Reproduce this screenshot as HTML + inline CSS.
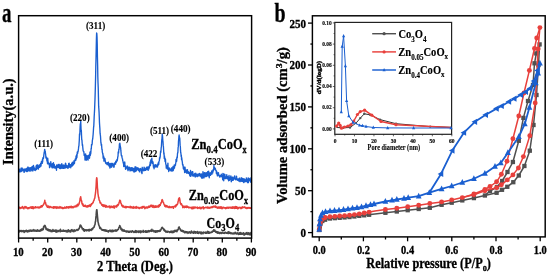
<!DOCTYPE html><html><head><meta charset="utf-8"><style>html,body{margin:0;padding:0;background:#fff;}svg{display:block;will-change:transform;}text{font-family:"Liberation Serif", serif;}</style></head><body>
<svg width="550" height="277" viewBox="0 0 550 277">
<rect x="0" y="0" width="550" height="277" fill="#fff"/>
<path d="M18.60,230.40 L18.86,230.75 L19.12,231.29 L19.39,231.81 L19.65,230.44 L19.91,231.21 L20.17,230.63 L20.43,230.69 L20.70,230.91 L20.96,231.40 L21.22,231.16 L21.48,231.64 L21.74,230.56 L22.00,231.49 L22.27,231.51 L22.53,231.08 L22.79,231.29 L23.05,230.76 L23.31,230.50 L23.58,230.84 L23.84,230.72 L24.10,232.49 L24.36,230.80 L24.62,231.87 L24.89,231.14 L25.15,231.19 L25.41,231.41 L25.67,230.65 L25.93,231.49 L26.20,231.22 L26.46,230.27 L26.72,231.33 L26.98,231.31 L27.24,231.25 L27.50,231.82 L27.77,230.82 L28.03,231.28 L28.29,231.40 L28.55,230.57 L28.81,231.62 L29.08,230.29 L29.34,230.36 L29.60,231.27 L29.86,230.47 L30.12,230.95 L30.39,230.18 L30.65,231.04 L30.91,230.43 L31.17,231.17 L31.43,230.23 L31.69,231.21 L31.96,230.85 L32.22,231.01 L32.48,230.94 L32.74,231.04 L33.00,230.31 L33.27,229.68 L33.53,230.98 L33.79,230.49 L34.05,230.72 L34.31,231.16 L34.58,229.94 L34.84,230.55 L35.10,230.61 L35.36,230.38 L35.62,231.07 L35.89,230.82 L36.15,230.47 L36.41,230.38 L36.67,231.26 L36.93,230.51 L37.19,231.12 L37.46,231.04 L37.72,229.85 L37.98,230.23 L38.24,230.75 L38.50,230.90 L38.77,231.09 L39.03,231.07 L39.29,231.15 L39.55,230.41 L39.81,230.44 L40.08,230.89 L40.34,230.23 L40.60,230.91 L40.86,229.51 L41.12,230.55 L41.39,230.04 L41.65,229.04 L41.91,230.38 L42.17,229.90 L42.43,229.57 L42.69,228.81 L42.96,228.87 L43.22,229.55 L43.48,228.00 L43.74,226.20 L44.00,226.89 L44.27,226.00 L44.53,225.83 L44.79,225.40 L45.05,225.44 L45.31,226.17 L45.58,227.85 L45.84,227.21 L46.10,229.39 L46.36,228.53 L46.62,228.56 L46.89,229.75 L47.15,229.85 L47.41,229.22 L47.67,230.27 L47.93,229.10 L48.19,229.67 L48.46,230.79 L48.72,230.19 L48.98,229.74 L49.24,230.71 L49.50,230.97 L49.77,230.55 L50.03,229.70 L50.29,230.47 L50.55,230.88 L50.81,231.09 L51.08,231.66 L51.34,230.63 L51.60,230.54 L51.86,230.78 L52.12,231.42 L52.39,230.37 L52.65,231.51 L52.91,229.49 L53.17,231.28 L53.43,230.56 L53.69,231.13 L53.96,231.26 L54.22,230.33 L54.48,230.89 L54.74,231.06 L55.00,231.24 L55.27,230.49 L55.53,230.47 L55.79,230.01 L56.05,232.24 L56.31,230.88 L56.58,230.87 L56.84,230.24 L57.10,231.46 L57.36,230.73 L57.62,231.72 L57.88,231.43 L58.15,231.02 L58.41,231.37 L58.67,230.45 L58.93,230.85 L59.19,230.73 L59.46,230.38 L59.72,231.03 L59.98,230.95 L60.24,231.74 L60.50,229.35 L60.77,230.69 L61.03,230.57 L61.29,230.80 L61.55,231.24 L61.81,231.23 L62.08,231.04 L62.34,230.79 L62.60,231.28 L62.86,231.21 L63.12,230.11 L63.38,230.90 L63.65,230.34 L63.91,230.44 L64.17,231.10 L64.43,231.06 L64.69,231.08 L64.96,230.59 L65.22,230.92 L65.48,230.57 L65.74,231.21 L66.00,231.36 L66.27,231.89 L66.53,231.65 L66.79,230.61 L67.05,230.78 L67.31,230.54 L67.58,231.16 L67.84,231.99 L68.10,231.35 L68.36,229.89 L68.62,230.36 L68.88,230.33 L69.15,231.23 L69.41,230.97 L69.67,231.11 L69.93,231.85 L70.19,230.54 L70.46,230.52 L70.72,231.92 L70.98,231.09 L71.24,230.52 L71.50,229.89 L71.77,230.13 L72.03,229.66 L72.29,230.90 L72.55,230.87 L72.81,231.33 L73.08,230.74 L73.34,230.44 L73.60,230.40 L73.86,231.69 L74.12,229.83 L74.38,230.77 L74.65,230.67 L74.91,230.92 L75.17,230.37 L75.43,230.78 L75.69,230.88 L75.96,230.34 L76.22,230.12 L76.48,230.18 L76.74,229.70 L77.00,229.98 L77.27,229.81 L77.53,229.94 L77.79,230.35 L78.05,230.15 L78.31,229.06 L78.58,229.33 L78.84,228.87 L79.10,228.73 L79.36,227.89 L79.62,227.41 L79.88,226.25 L80.15,225.15 L80.41,225.17 L80.67,225.24 L80.93,225.56 L81.19,226.37 L81.46,227.13 L81.72,227.42 L81.98,227.26 L82.24,228.87 L82.50,228.95 L82.77,228.83 L83.03,228.84 L83.29,230.14 L83.55,228.75 L83.81,230.66 L84.07,230.20 L84.34,231.16 L84.60,229.69 L84.86,230.10 L85.12,229.91 L85.38,230.28 L85.65,230.14 L85.91,229.89 L86.17,230.83 L86.43,229.91 L86.69,230.06 L86.96,230.59 L87.22,230.05 L87.48,230.09 L87.74,230.48 L88.00,230.10 L88.27,229.64 L88.53,230.18 L88.79,230.09 L89.05,231.01 L89.31,229.57 L89.57,230.55 L89.84,229.61 L90.10,229.76 L90.36,229.70 L90.62,229.91 L90.88,230.11 L91.15,230.44 L91.41,229.12 L91.67,229.97 L91.93,229.64 L92.19,229.36 L92.46,228.36 L92.72,228.95 L92.98,228.17 L93.24,228.08 L93.50,227.40 L93.77,227.44 L94.03,227.16 L94.29,226.59 L94.55,225.23 L94.81,225.00 L95.07,224.22 L95.34,221.76 L95.60,221.33 L95.86,217.71 L96.12,215.64 L96.38,212.02 L96.65,209.75 L96.91,209.78 L97.17,212.73 L97.43,216.09 L97.69,218.60 L97.96,221.60 L98.22,222.61 L98.48,223.54 L98.74,225.12 L99.00,225.25 L99.27,226.08 L99.53,226.63 L99.79,228.17 L100.05,228.49 L100.31,228.04 L100.57,227.65 L100.84,228.84 L101.10,228.98 L101.36,229.33 L101.62,229.62 L101.88,229.35 L102.15,230.12 L102.41,230.20 L102.67,230.01 L102.93,229.80 L103.19,229.86 L103.46,230.53 L103.72,229.71 L103.98,230.25 L104.24,230.02 L104.50,229.76 L104.77,230.81 L105.03,230.55 L105.29,230.62 L105.55,231.08 L105.81,229.93 L106.07,230.68 L106.34,230.89 L106.60,231.19 L106.86,230.26 L107.12,231.19 L107.38,230.96 L107.65,231.55 L107.91,231.46 L108.17,231.18 L108.43,232.00 L108.69,230.94 L108.96,230.74 L109.22,230.79 L109.48,230.51 L109.74,230.97 L110.00,230.05 L110.27,230.96 L110.53,231.22 L110.79,231.50 L111.05,230.84 L111.31,231.71 L111.57,230.69 L111.84,230.94 L112.10,230.07 L112.36,230.62 L112.62,230.60 L112.88,231.71 L113.15,231.23 L113.41,230.42 L113.67,231.20 L113.93,231.16 L114.19,230.78 L114.46,230.88 L114.72,230.69 L114.98,230.53 L115.24,229.89 L115.50,230.66 L115.76,231.27 L116.03,231.27 L116.29,230.36 L116.55,230.03 L116.81,230.19 L117.07,230.60 L117.34,230.18 L117.60,229.54 L117.86,229.79 L118.12,229.25 L118.38,229.27 L118.65,228.42 L118.91,227.38 L119.17,227.48 L119.43,227.08 L119.69,225.57 L119.96,225.95 L120.22,226.92 L120.48,227.05 L120.74,227.62 L121.00,229.49 L121.26,229.36 L121.53,229.81 L121.79,229.14 L122.05,230.64 L122.31,229.24 L122.57,229.96 L122.84,230.72 L123.10,231.14 L123.36,230.15 L123.62,230.37 L123.88,230.88 L124.15,229.92 L124.41,231.23 L124.67,231.25 L124.93,230.81 L125.19,231.33 L125.46,231.49 L125.72,231.30 L125.98,231.44 L126.24,231.95 L126.50,231.01 L126.76,231.35 L127.03,231.04 L127.29,231.82 L127.55,231.14 L127.81,231.58 L128.07,231.44 L128.34,231.42 L128.60,232.23 L128.86,231.37 L129.12,232.12 L129.38,231.84 L129.65,232.09 L129.91,231.38 L130.17,231.92 L130.43,231.85 L130.69,231.20 L130.96,231.63 L131.22,231.45 L131.48,231.50 L131.74,232.16 L132.00,231.19 L132.26,230.73 L132.53,230.71 L132.79,231.34 L133.05,231.25 L133.31,231.58 L133.57,231.85 L133.84,232.43 L134.10,231.74 L134.36,231.82 L134.62,231.24 L134.88,231.88 L135.15,232.26 L135.41,232.26 L135.67,230.67 L135.93,232.05 L136.19,232.39 L136.46,232.03 L136.72,230.91 L136.98,231.49 L137.24,231.92 L137.50,231.84 L137.76,231.26 L138.03,231.22 L138.29,232.12 L138.55,231.01 L138.81,232.35 L139.07,231.67 L139.34,231.81 L139.60,231.02 L139.86,231.38 L140.12,232.00 L140.38,230.96 L140.65,232.67 L140.91,231.00 L141.17,231.09 L141.43,231.70 L141.69,231.91 L141.95,232.03 L142.22,231.50 L142.48,231.58 L142.74,231.56 L143.00,231.40 L143.26,230.43 L143.53,232.13 L143.79,231.79 L144.05,231.74 L144.31,231.36 L144.57,231.78 L144.84,231.64 L145.10,231.61 L145.36,232.17 L145.62,230.80 L145.88,231.74 L146.15,231.10 L146.41,231.44 L146.67,232.30 L146.93,231.04 L147.19,231.50 L147.45,231.24 L147.72,231.95 L147.98,231.00 L148.24,230.62 L148.50,231.64 L148.76,231.18 L149.03,231.14 L149.29,231.75 L149.55,230.73 L149.81,230.88 L150.07,231.03 L150.34,231.03 L150.60,230.43 L150.86,231.01 L151.12,231.43 L151.38,230.03 L151.65,231.09 L151.91,229.26 L152.17,231.09 L152.43,230.41 L152.69,230.80 L152.95,230.70 L153.22,230.67 L153.48,230.46 L153.74,230.96 L154.00,231.83 L154.26,231.81 L154.53,231.13 L154.79,231.08 L155.05,231.02 L155.31,230.81 L155.57,232.26 L155.84,231.72 L156.10,231.46 L156.36,231.17 L156.62,230.91 L156.88,232.02 L157.15,231.74 L157.41,230.88 L157.67,231.79 L157.93,230.74 L158.19,231.53 L158.45,230.71 L158.72,230.91 L158.98,231.26 L159.24,231.14 L159.50,231.31 L159.76,230.29 L160.03,231.30 L160.29,231.00 L160.55,230.12 L160.81,230.07 L161.07,229.12 L161.34,228.98 L161.60,227.85 L161.86,227.86 L162.12,227.31 L162.38,227.64 L162.65,227.79 L162.91,228.38 L163.17,228.48 L163.43,229.09 L163.69,229.47 L163.95,230.08 L164.22,229.32 L164.48,230.84 L164.74,229.91 L165.00,230.58 L165.26,230.97 L165.53,230.83 L165.79,231.97 L166.05,231.22 L166.31,232.09 L166.57,231.97 L166.84,231.22 L167.10,231.71 L167.36,232.18 L167.62,231.44 L167.88,231.67 L168.14,231.39 L168.41,231.72 L168.67,231.54 L168.93,231.77 L169.19,232.23 L169.45,232.43 L169.72,231.84 L169.98,231.88 L170.24,232.21 L170.50,231.66 L170.76,231.30 L171.03,232.34 L171.29,231.36 L171.55,232.25 L171.81,231.34 L172.07,232.68 L172.34,231.29 L172.60,232.19 L172.86,232.49 L173.12,231.29 L173.38,232.44 L173.64,231.31 L173.91,230.83 L174.17,231.99 L174.43,231.94 L174.69,231.46 L174.95,230.29 L175.22,231.42 L175.48,231.23 L175.74,231.11 L176.00,231.05 L176.26,230.22 L176.53,230.67 L176.79,231.64 L177.05,231.33 L177.31,230.18 L177.57,229.73 L177.84,229.92 L178.10,229.80 L178.36,229.08 L178.62,227.48 L178.88,227.39 L179.14,226.90 L179.41,227.64 L179.67,228.14 L179.93,228.57 L180.19,229.56 L180.45,229.31 L180.72,230.66 L180.98,230.05 L181.24,230.72 L181.50,231.20 L181.76,230.51 L182.03,230.78 L182.29,230.41 L182.55,231.46 L182.81,231.46 L183.07,231.42 L183.34,231.90 L183.60,230.71 L183.86,231.78 L184.12,231.89 L184.38,231.77 L184.64,232.33 L184.91,232.83 L185.17,231.81 L185.43,231.61 L185.69,231.80 L185.95,232.16 L186.22,232.42 L186.48,231.75 L186.74,232.67 L187.00,231.72 L187.26,232.63 L187.53,232.45 L187.79,232.49 L188.05,233.32 L188.31,232.17 L188.57,232.23 L188.84,232.55 L189.10,232.75 L189.36,231.71 L189.62,232.49 L189.88,232.02 L190.14,232.68 L190.41,233.05 L190.67,232.43 L190.93,232.36 L191.19,232.51 L191.45,231.01 L191.72,232.81 L191.98,232.72 L192.24,232.54 L192.50,232.27 L192.76,232.12 L193.03,232.39 L193.29,233.07 L193.55,232.44 L193.81,233.15 L194.07,231.27 L194.33,232.29 L194.60,232.65 L194.86,232.52 L195.12,231.74 L195.38,232.22 L195.64,233.15 L195.91,231.93 L196.17,232.08 L196.43,232.04 L196.69,232.30 L196.95,232.88 L197.22,232.87 L197.48,231.61 L197.74,233.29 L198.00,232.31 L198.26,232.32 L198.53,233.41 L198.79,232.57 L199.05,232.02 L199.31,232.31 L199.57,232.28 L199.83,232.14 L200.10,232.47 L200.36,233.06 L200.62,232.81 L200.88,231.98 L201.14,233.99 L201.41,232.18 L201.67,232.71 L201.93,232.67 L202.19,233.03 L202.45,232.51 L202.72,232.89 L202.98,233.68 L203.24,232.72 L203.50,232.16 L203.76,232.84 L204.03,232.29 L204.29,232.50 L204.55,232.77 L204.81,232.84 L205.07,232.55 L205.33,233.09 L205.60,232.59 L205.86,232.05 L206.12,233.10 L206.38,232.50 L206.64,233.26 L206.91,232.35 L207.17,232.94 L207.43,232.81 L207.69,231.36 L207.95,231.93 L208.22,232.10 L208.48,233.30 L208.74,231.70 L209.00,233.03 L209.26,233.10 L209.53,232.80 L209.79,232.86 L210.05,232.27 L210.31,232.47 L210.57,232.55 L210.83,232.60 L211.10,232.69 L211.36,232.20 L211.62,231.90 L211.88,231.89 L212.14,232.27 L212.41,231.18 L212.67,231.25 L212.93,231.52 L213.19,231.29 L213.45,231.24 L213.72,229.89 L213.98,230.80 L214.24,230.70 L214.50,231.16 L214.76,229.94 L215.03,230.93 L215.29,231.52 L215.55,231.74 L215.81,232.26 L216.07,232.36 L216.33,231.49 L216.60,232.42 L216.86,232.05 L217.12,231.92 L217.38,233.12 L217.64,232.15 L217.91,232.11 L218.17,232.38 L218.43,232.21 L218.69,233.15 L218.95,232.89 L219.22,233.42 L219.48,232.97 L219.74,232.51 L220.00,233.34 L220.26,232.54 L220.52,232.66 L220.79,232.82 L221.05,232.94 L221.31,233.51 L221.57,232.67 L221.83,233.14 L222.10,232.98 L222.36,232.40 L222.62,232.49 L222.88,232.92 L223.14,233.24 L223.41,233.21 L223.67,233.30 L223.93,233.10 L224.19,232.87 L224.45,233.30 L224.72,232.62 L224.98,232.47 L225.24,232.97 L225.50,232.45 L225.76,232.90 L226.02,232.79 L226.29,232.89 L226.55,233.15 L226.81,232.79 L227.07,232.98 L227.33,232.37 L227.60,233.27 L227.86,232.79 L228.12,233.41 L228.38,231.86 L228.64,232.85 L228.91,233.36 L229.17,232.07 L229.43,233.08 L229.69,233.31 L229.95,233.32 L230.22,232.55 L230.48,233.39 L230.74,233.36 L231.00,232.83 L231.26,233.66 L231.52,233.29 L231.79,233.32 L232.05,233.11 L232.31,233.59 L232.57,233.38 L232.83,233.89 L233.10,233.57 L233.36,233.06 L233.62,233.25 L233.88,233.81 L234.14,233.20 L234.41,233.57 L234.67,233.64 L234.93,233.31 L235.19,232.28 L235.45,233.47 L235.72,233.52 L235.98,233.48 L236.24,233.06 L236.50,234.02 L236.76,233.37 L237.02,233.14 L237.29,233.10 L237.55,233.63 L237.81,232.93 L238.07,232.98 L238.33,234.44 L238.60,234.11 L238.86,234.00 L239.12,234.15 L239.38,233.79 L239.64,232.69 L239.91,234.09 L240.17,234.12 L240.43,233.76 L240.69,232.58 L240.95,234.14 L241.22,234.20 L241.48,233.31 L241.74,233.62 L242.00,233.94 L242.26,233.53 L242.52,234.10 L242.79,233.62 L243.05,233.92 L243.31,233.63 L243.57,232.88 L243.83,233.12 L244.10,235.14 L244.36,233.75 L244.62,234.26 L244.88,234.18 L245.14,234.47 L245.41,233.91 L245.67,233.36 L245.93,233.66 L246.19,232.73 L246.45,233.57 L246.71,234.11 L246.98,232.63 L247.24,233.78 L247.50,234.09 L247.76,234.34 L248.02,233.25 L248.29,233.39 L248.55,232.81 L248.81,233.23 L249.07,233.99 L249.33,234.74 L249.60,233.18 L249.86,234.41 L250.12,233.96 L250.38,233.52 L250.64,234.83 L250.91,232.55 L251.17,233.74" fill="none" stroke="#484848" stroke-width="1.6" stroke-linejoin="round" />
<path d="M18.60,207.36 L18.86,207.24 L19.12,207.56 L19.39,207.88 L19.65,207.15 L19.91,207.67 L20.17,208.45 L20.43,208.08 L20.70,207.66 L20.96,207.80 L21.22,207.67 L21.48,207.71 L21.74,208.10 L22.00,207.68 L22.27,206.53 L22.53,207.72 L22.79,207.28 L23.05,208.05 L23.31,207.42 L23.58,207.80 L23.84,208.81 L24.10,207.20 L24.36,207.16 L24.62,207.01 L24.89,206.52 L25.15,206.77 L25.41,207.89 L25.67,207.39 L25.93,206.77 L26.20,206.97 L26.46,208.01 L26.72,207.32 L26.98,207.52 L27.24,207.86 L27.50,208.37 L27.77,208.67 L28.03,208.21 L28.29,207.76 L28.55,207.78 L28.81,208.59 L29.08,208.40 L29.34,207.52 L29.60,207.90 L29.86,207.82 L30.12,207.70 L30.39,207.42 L30.65,207.00 L30.91,207.39 L31.17,206.88 L31.43,208.26 L31.69,207.91 L31.96,207.04 L32.22,208.33 L32.48,208.08 L32.74,206.67 L33.00,208.54 L33.27,208.02 L33.53,208.64 L33.79,206.98 L34.05,207.86 L34.31,207.79 L34.58,207.67 L34.84,207.65 L35.10,208.08 L35.36,206.79 L35.62,206.91 L35.89,206.82 L36.15,207.23 L36.41,207.19 L36.67,207.66 L36.93,207.59 L37.19,207.45 L37.46,207.08 L37.72,207.17 L37.98,207.84 L38.24,207.72 L38.50,207.36 L38.77,207.11 L39.03,208.01 L39.29,206.90 L39.55,207.47 L39.81,207.67 L40.08,206.90 L40.34,207.38 L40.60,206.34 L40.86,207.31 L41.12,206.81 L41.39,205.80 L41.65,206.80 L41.91,205.87 L42.17,206.78 L42.43,205.59 L42.69,205.61 L42.96,205.55 L43.22,204.90 L43.48,204.79 L43.74,203.87 L44.00,203.84 L44.27,202.76 L44.53,202.15 L44.79,200.35 L45.05,202.62 L45.31,202.77 L45.58,202.61 L45.84,204.19 L46.10,204.88 L46.36,205.60 L46.62,204.86 L46.89,206.46 L47.15,205.84 L47.41,207.32 L47.67,206.22 L47.93,206.78 L48.19,206.39 L48.46,206.13 L48.72,207.33 L48.98,207.32 L49.24,207.71 L49.50,207.44 L49.77,206.78 L50.03,206.29 L50.29,206.84 L50.55,206.87 L50.81,206.83 L51.08,207.56 L51.34,207.46 L51.60,207.19 L51.86,207.44 L52.12,207.30 L52.39,207.50 L52.65,207.78 L52.91,207.90 L53.17,207.09 L53.43,206.70 L53.69,208.17 L53.96,207.53 L54.22,208.03 L54.48,206.67 L54.74,207.33 L55.00,207.52 L55.27,206.79 L55.53,207.26 L55.79,207.89 L56.05,208.07 L56.31,208.33 L56.58,207.11 L56.84,206.84 L57.10,207.80 L57.36,208.02 L57.62,207.65 L57.88,206.90 L58.15,207.95 L58.41,207.95 L58.67,207.83 L58.93,207.31 L59.19,207.71 L59.46,207.95 L59.72,207.28 L59.98,206.64 L60.24,207.72 L60.50,207.80 L60.77,207.57 L61.03,208.00 L61.29,207.26 L61.55,207.51 L61.81,207.40 L62.08,207.84 L62.34,208.35 L62.60,207.42 L62.86,208.57 L63.12,208.31 L63.38,207.94 L63.65,207.83 L63.91,208.42 L64.17,207.44 L64.43,207.47 L64.69,206.99 L64.96,207.76 L65.22,208.19 L65.48,207.78 L65.74,207.72 L66.00,207.40 L66.27,207.58 L66.53,206.78 L66.79,208.01 L67.05,207.27 L67.31,206.92 L67.58,207.09 L67.84,207.04 L68.10,207.87 L68.36,207.96 L68.62,206.75 L68.88,207.88 L69.15,207.85 L69.41,207.10 L69.67,206.64 L69.93,207.00 L70.19,207.04 L70.46,207.51 L70.72,207.14 L70.98,206.29 L71.24,207.41 L71.50,206.50 L71.77,207.70 L72.03,206.62 L72.29,206.85 L72.55,206.75 L72.81,206.87 L73.08,207.76 L73.34,207.51 L73.60,207.34 L73.86,207.16 L74.12,206.18 L74.38,206.65 L74.65,206.58 L74.91,206.30 L75.17,206.98 L75.43,206.28 L75.69,206.21 L75.96,205.95 L76.22,205.34 L76.48,206.54 L76.74,206.77 L77.00,206.04 L77.27,205.28 L77.53,204.21 L77.79,205.41 L78.05,205.65 L78.31,204.86 L78.58,204.78 L78.84,204.59 L79.10,203.83 L79.36,202.32 L79.62,202.13 L79.88,200.77 L80.15,198.16 L80.41,197.47 L80.67,196.72 L80.93,198.36 L81.19,200.14 L81.46,200.61 L81.72,201.12 L81.98,203.56 L82.24,203.70 L82.50,204.72 L82.77,203.71 L83.03,205.22 L83.29,206.00 L83.55,206.19 L83.81,205.26 L84.07,205.66 L84.34,205.58 L84.60,206.27 L84.86,206.38 L85.12,205.97 L85.38,205.31 L85.65,206.41 L85.91,205.83 L86.17,206.41 L86.43,206.24 L86.69,206.92 L86.96,206.68 L87.22,205.87 L87.48,206.25 L87.74,206.93 L88.00,205.74 L88.27,206.18 L88.53,206.51 L88.79,206.48 L89.05,206.04 L89.31,205.04 L89.57,204.97 L89.84,205.62 L90.10,205.57 L90.36,206.52 L90.62,204.67 L90.88,205.50 L91.15,205.13 L91.41,203.70 L91.67,203.88 L91.93,204.11 L92.19,203.48 L92.46,203.31 L92.72,203.24 L92.98,202.16 L93.24,202.31 L93.50,201.20 L93.77,200.61 L94.03,200.42 L94.29,199.03 L94.55,198.49 L94.81,198.02 L95.07,195.88 L95.34,194.14 L95.60,192.47 L95.86,189.11 L96.12,186.02 L96.38,180.21 L96.65,177.72 L96.91,177.96 L97.17,182.02 L97.43,187.76 L97.69,189.92 L97.96,193.78 L98.22,195.17 L98.48,197.11 L98.74,197.16 L99.00,199.33 L99.27,200.38 L99.53,200.40 L99.79,201.10 L100.05,203.01 L100.31,202.41 L100.57,202.59 L100.84,202.91 L101.10,203.83 L101.36,204.10 L101.62,204.32 L101.88,205.36 L102.15,204.57 L102.41,205.19 L102.67,205.87 L102.93,204.81 L103.19,205.99 L103.46,206.53 L103.72,205.07 L103.98,205.31 L104.24,205.45 L104.50,205.14 L104.77,206.38 L105.03,205.31 L105.29,206.56 L105.55,207.10 L105.81,205.63 L106.07,206.34 L106.34,205.59 L106.60,206.99 L106.86,206.27 L107.12,206.55 L107.38,206.75 L107.65,207.03 L107.91,206.62 L108.17,206.83 L108.43,206.57 L108.69,206.93 L108.96,206.30 L109.22,206.94 L109.48,205.96 L109.74,206.70 L110.00,207.92 L110.27,207.01 L110.53,206.35 L110.79,207.11 L111.05,206.51 L111.31,206.17 L111.57,206.63 L111.84,207.36 L112.10,207.18 L112.36,206.94 L112.62,206.52 L112.88,206.43 L113.15,207.63 L113.41,207.06 L113.67,206.44 L113.93,205.83 L114.19,206.17 L114.46,208.06 L114.72,206.21 L114.98,206.70 L115.24,206.78 L115.50,206.53 L115.76,206.40 L116.03,205.76 L116.29,205.82 L116.55,207.07 L116.81,205.71 L117.07,206.34 L117.34,204.88 L117.60,205.36 L117.86,205.35 L118.12,205.40 L118.38,203.91 L118.65,204.25 L118.91,203.48 L119.17,202.09 L119.43,201.75 L119.69,200.28 L119.96,200.20 L120.22,201.21 L120.48,200.81 L120.74,203.01 L121.00,203.29 L121.26,203.63 L121.53,204.60 L121.79,205.56 L122.05,205.28 L122.31,206.37 L122.57,205.37 L122.84,205.48 L123.10,207.07 L123.36,206.63 L123.62,207.02 L123.88,206.24 L124.15,207.14 L124.41,206.95 L124.67,207.21 L124.93,206.96 L125.19,207.61 L125.46,206.73 L125.72,206.62 L125.98,206.40 L126.24,207.75 L126.50,206.84 L126.76,206.71 L127.03,206.79 L127.29,207.06 L127.55,206.67 L127.81,207.18 L128.07,207.03 L128.34,207.09 L128.60,206.90 L128.86,207.41 L129.12,207.17 L129.38,207.47 L129.65,207.55 L129.91,207.61 L130.17,206.35 L130.43,207.19 L130.69,207.07 L130.96,207.86 L131.22,206.69 L131.48,207.13 L131.74,207.35 L132.00,207.33 L132.26,208.00 L132.53,207.29 L132.79,208.00 L133.05,206.79 L133.31,206.62 L133.57,208.14 L133.84,207.75 L134.10,207.78 L134.36,207.60 L134.62,207.78 L134.88,206.94 L135.15,208.02 L135.41,207.28 L135.67,208.04 L135.93,207.59 L136.19,206.57 L136.46,206.91 L136.72,208.12 L136.98,207.49 L137.24,207.36 L137.50,207.68 L137.76,207.34 L138.03,207.28 L138.29,207.61 L138.55,207.63 L138.81,208.31 L139.07,207.57 L139.34,208.49 L139.60,208.45 L139.86,208.40 L140.12,208.07 L140.38,207.61 L140.65,207.61 L140.91,207.46 L141.17,207.17 L141.43,207.49 L141.69,207.20 L141.95,208.34 L142.22,207.78 L142.48,207.28 L142.74,206.54 L143.00,207.47 L143.26,207.28 L143.53,206.94 L143.79,206.90 L144.05,206.33 L144.31,207.73 L144.57,207.40 L144.84,208.71 L145.10,207.39 L145.36,207.32 L145.62,208.10 L145.88,207.42 L146.15,207.42 L146.41,207.12 L146.67,206.98 L146.93,208.00 L147.19,207.72 L147.45,208.04 L147.72,206.96 L147.98,207.11 L148.24,206.60 L148.50,207.46 L148.76,206.21 L149.03,207.11 L149.29,207.29 L149.55,207.34 L149.81,206.05 L150.07,206.93 L150.34,205.87 L150.60,205.67 L150.86,205.20 L151.12,206.25 L151.38,206.36 L151.65,205.20 L151.91,205.19 L152.17,205.54 L152.43,207.14 L152.69,206.55 L152.95,205.93 L153.22,205.43 L153.48,206.09 L153.74,207.11 L154.00,207.53 L154.26,206.52 L154.53,206.36 L154.79,206.48 L155.05,205.82 L155.31,207.24 L155.57,206.25 L155.84,207.33 L156.10,205.94 L156.36,206.14 L156.62,206.90 L156.88,206.35 L157.15,207.08 L157.41,206.65 L157.67,206.00 L157.93,206.82 L158.19,206.85 L158.45,205.38 L158.72,207.13 L158.98,206.33 L159.24,206.30 L159.50,204.81 L159.76,205.16 L160.03,205.08 L160.29,205.49 L160.55,203.85 L160.81,203.68 L161.07,202.54 L161.34,202.73 L161.60,202.12 L161.86,200.05 L162.12,199.64 L162.38,199.84 L162.65,200.91 L162.91,201.47 L163.17,202.02 L163.43,202.44 L163.69,203.24 L163.95,203.91 L164.22,204.75 L164.48,205.02 L164.74,206.17 L165.00,205.74 L165.26,205.27 L165.53,206.77 L165.79,206.63 L166.05,206.34 L166.31,206.04 L166.57,205.57 L166.84,206.08 L167.10,207.12 L167.36,206.33 L167.62,206.13 L167.88,206.94 L168.14,207.00 L168.41,207.22 L168.67,207.28 L168.93,207.68 L169.19,206.58 L169.45,207.50 L169.72,206.53 L169.98,207.38 L170.24,207.13 L170.50,207.17 L170.76,207.53 L171.03,207.03 L171.29,207.59 L171.55,207.46 L171.81,207.08 L172.07,206.71 L172.34,206.59 L172.60,206.68 L172.86,206.81 L173.12,206.86 L173.38,208.32 L173.64,207.10 L173.91,207.11 L174.17,206.22 L174.43,206.22 L174.69,206.33 L174.95,206.48 L175.22,205.75 L175.48,206.94 L175.74,205.70 L176.00,206.33 L176.26,204.41 L176.53,205.33 L176.79,205.17 L177.05,204.78 L177.31,204.56 L177.57,203.88 L177.84,203.19 L178.10,201.35 L178.36,200.91 L178.62,198.81 L178.88,198.94 L179.14,197.89 L179.41,197.84 L179.67,198.66 L179.93,200.16 L180.19,202.58 L180.45,203.48 L180.72,203.34 L180.98,204.61 L181.24,203.66 L181.50,203.89 L181.76,204.95 L182.03,205.04 L182.29,205.45 L182.55,206.03 L182.81,207.63 L183.07,205.94 L183.34,206.44 L183.60,206.67 L183.86,206.62 L184.12,207.20 L184.38,207.70 L184.64,206.26 L184.91,207.03 L185.17,206.88 L185.43,207.24 L185.69,206.34 L185.95,206.27 L186.22,206.03 L186.48,207.49 L186.74,207.35 L187.00,207.32 L187.26,206.13 L187.53,207.15 L187.79,206.98 L188.05,206.67 L188.31,206.94 L188.57,207.77 L188.84,207.71 L189.10,207.44 L189.36,207.72 L189.62,207.17 L189.88,207.52 L190.14,207.52 L190.41,207.79 L190.67,207.49 L190.93,207.46 L191.19,207.47 L191.45,207.23 L191.72,208.67 L191.98,207.82 L192.24,207.79 L192.50,208.72 L192.76,208.29 L193.03,206.81 L193.29,207.94 L193.55,208.02 L193.81,208.55 L194.07,208.27 L194.33,208.00 L194.60,207.03 L194.86,207.19 L195.12,207.76 L195.38,207.88 L195.64,207.12 L195.91,207.44 L196.17,207.44 L196.43,207.67 L196.69,207.81 L196.95,207.51 L197.22,207.03 L197.48,208.27 L197.74,208.45 L198.00,207.60 L198.26,208.17 L198.53,207.88 L198.79,207.99 L199.05,207.91 L199.31,207.28 L199.57,207.95 L199.83,208.17 L200.10,207.22 L200.36,208.65 L200.62,208.72 L200.88,208.58 L201.14,208.67 L201.41,208.04 L201.67,207.50 L201.93,207.37 L202.19,207.27 L202.45,207.73 L202.72,207.66 L202.98,208.01 L203.24,206.66 L203.50,208.83 L203.76,208.81 L204.03,207.66 L204.29,208.01 L204.55,207.91 L204.81,207.80 L205.07,207.56 L205.33,207.60 L205.60,207.25 L205.86,207.75 L206.12,207.64 L206.38,207.81 L206.64,207.22 L206.91,207.66 L207.17,207.66 L207.43,207.93 L207.69,207.09 L207.95,207.83 L208.22,208.10 L208.48,207.90 L208.74,207.41 L209.00,207.33 L209.26,207.45 L209.53,207.92 L209.79,208.31 L210.05,207.44 L210.31,207.18 L210.57,207.67 L210.83,207.55 L211.10,206.97 L211.36,207.02 L211.62,207.30 L211.88,207.64 L212.14,206.66 L212.41,206.69 L212.67,207.38 L212.93,206.44 L213.19,207.02 L213.45,207.04 L213.72,206.70 L213.98,206.14 L214.24,206.54 L214.50,206.39 L214.76,206.77 L215.03,206.28 L215.29,207.35 L215.55,206.08 L215.81,206.92 L216.07,207.10 L216.33,207.65 L216.60,206.93 L216.86,207.56 L217.12,207.05 L217.38,207.75 L217.64,208.29 L217.91,207.25 L218.17,207.70 L218.43,207.04 L218.69,208.01 L218.95,208.15 L219.22,207.58 L219.48,207.01 L219.74,207.80 L220.00,208.18 L220.26,208.16 L220.52,208.04 L220.79,206.72 L221.05,207.31 L221.31,208.37 L221.57,207.05 L221.83,208.23 L222.10,208.62 L222.36,208.06 L222.62,208.25 L222.88,207.52 L223.14,207.08 L223.41,207.65 L223.67,207.60 L223.93,207.68 L224.19,208.06 L224.45,207.64 L224.72,207.81 L224.98,207.93 L225.24,207.72 L225.50,208.64 L225.76,207.95 L226.02,207.77 L226.29,207.63 L226.55,207.42 L226.81,208.40 L227.07,207.81 L227.33,207.20 L227.60,207.46 L227.86,207.67 L228.12,207.52 L228.38,208.28 L228.64,207.16 L228.91,207.99 L229.17,207.82 L229.43,207.16 L229.69,207.77 L229.95,207.70 L230.22,208.00 L230.48,207.53 L230.74,207.90 L231.00,206.92 L231.26,207.21 L231.52,208.15 L231.79,208.28 L232.05,207.75 L232.31,207.46 L232.57,208.30 L232.83,206.71 L233.10,207.36 L233.36,208.09 L233.62,208.09 L233.88,207.24 L234.14,206.82 L234.41,208.49 L234.67,207.84 L234.93,207.31 L235.19,207.79 L235.45,208.21 L235.72,206.47 L235.98,208.32 L236.24,208.13 L236.50,206.72 L236.76,208.15 L237.02,206.88 L237.29,208.34 L237.55,207.97 L237.81,208.89 L238.07,207.46 L238.33,207.77 L238.60,208.29 L238.86,207.45 L239.12,207.42 L239.38,207.58 L239.64,207.73 L239.91,207.23 L240.17,208.01 L240.43,208.04 L240.69,207.81 L240.95,208.62 L241.22,207.61 L241.48,208.42 L241.74,207.50 L242.00,208.15 L242.26,206.80 L242.52,207.87 L242.79,207.68 L243.05,207.53 L243.31,207.47 L243.57,207.60 L243.83,207.41 L244.10,206.68 L244.36,207.48 L244.62,207.50 L244.88,207.51 L245.14,207.25 L245.41,207.71 L245.67,208.17 L245.93,207.65 L246.19,207.53 L246.45,208.45 L246.71,208.26 L246.98,208.24 L247.24,208.35 L247.50,207.61 L247.76,207.71 L248.02,208.33 L248.29,207.50 L248.55,207.72 L248.81,207.97 L249.07,207.96 L249.33,207.64 L249.60,208.27 L249.86,207.69 L250.12,208.14 L250.38,208.31 L250.64,208.11 L250.91,208.15 L251.17,207.20" fill="none" stroke="#e8403c" stroke-width="1.5" stroke-linejoin="round" />
<path d="M18.60,170.24 L18.80,171.26 L19.01,170.24 L19.21,170.11 L19.41,169.26 L19.62,170.21 L19.82,171.98 L20.03,171.04 L20.23,171.85 L20.43,170.77 L20.64,170.95 L20.84,170.65 L21.04,168.13 L21.25,171.52 L21.45,171.03 L21.66,171.00 L21.86,168.02 L22.06,167.94 L22.27,169.07 L22.47,169.62 L22.67,170.65 L22.88,170.15 L23.08,170.90 L23.29,169.31 L23.49,170.58 L23.69,170.67 L23.90,169.23 L24.10,172.42 L24.30,170.84 L24.51,171.68 L24.71,169.21 L24.91,169.03 L25.12,169.54 L25.32,169.84 L25.53,170.82 L25.73,170.28 L25.93,169.32 L26.14,168.61 L26.34,169.18 L26.54,171.51 L26.75,168.75 L26.95,170.14 L27.16,170.37 L27.36,167.76 L27.56,169.81 L27.77,171.49 L27.97,166.98 L28.17,169.24 L28.38,169.51 L28.58,168.52 L28.79,170.27 L28.99,169.49 L29.19,167.57 L29.40,170.64 L29.60,170.40 L29.80,170.75 L30.01,171.39 L30.21,169.90 L30.41,169.55 L30.62,167.60 L30.82,170.16 L31.03,168.47 L31.23,168.65 L31.43,167.52 L31.64,167.89 L31.84,168.45 L32.04,170.87 L32.25,166.35 L32.45,167.09 L32.66,169.34 L32.86,170.93 L33.06,169.72 L33.27,166.33 L33.47,165.45 L33.67,169.28 L33.88,167.75 L34.08,167.17 L34.28,169.95 L34.49,170.06 L34.69,168.72 L34.90,168.78 L35.10,168.97 L35.30,170.47 L35.51,169.08 L35.71,168.88 L35.91,168.84 L36.12,165.91 L36.32,169.67 L36.53,169.15 L36.73,168.48 L36.93,165.01 L37.14,166.72 L37.34,168.61 L37.54,164.92 L37.75,167.01 L37.95,168.51 L38.16,165.24 L38.36,169.05 L38.56,167.48 L38.77,166.39 L38.97,166.87 L39.17,167.14 L39.38,166.24 L39.58,167.43 L39.78,164.79 L39.99,164.90 L40.19,166.63 L40.40,165.00 L40.60,163.50 L40.80,165.67 L41.01,166.05 L41.21,163.13 L41.41,161.49 L41.62,162.77 L41.82,162.31 L42.03,161.63 L42.23,163.40 L42.43,159.54 L42.64,161.99 L42.84,157.87 L43.04,157.74 L43.25,158.76 L43.45,158.43 L43.66,156.92 L43.86,154.94 L44.06,153.27 L44.27,151.86 L44.47,151.19 L44.67,149.41 L44.88,149.94 L45.08,150.97 L45.28,151.33 L45.49,153.72 L45.69,154.81 L45.90,158.02 L46.10,156.85 L46.30,156.81 L46.51,157.74 L46.71,158.97 L46.91,160.90 L47.12,159.79 L47.32,161.29 L47.53,163.73 L47.73,158.23 L47.93,160.58 L48.14,162.80 L48.34,163.35 L48.54,163.45 L48.75,162.83 L48.95,164.56 L49.16,164.29 L49.36,163.43 L49.56,167.62 L49.77,165.00 L49.97,163.94 L50.17,164.71 L50.38,164.69 L50.58,165.04 L50.78,161.57 L50.99,164.70 L51.19,166.83 L51.40,163.98 L51.60,165.56 L51.80,167.02 L52.01,166.96 L52.21,167.89 L52.41,163.64 L52.62,165.52 L52.82,165.59 L53.03,166.94 L53.23,167.62 L53.43,162.57 L53.64,167.70 L53.84,164.31 L54.04,167.22 L54.25,164.31 L54.45,166.59 L54.65,167.99 L54.86,166.20 L55.06,166.67 L55.27,167.51 L55.47,166.64 L55.67,166.34 L55.88,168.55 L56.08,167.90 L56.28,166.10 L56.49,170.21 L56.69,164.96 L56.90,167.75 L57.10,166.16 L57.30,166.69 L57.51,167.47 L57.71,166.81 L57.91,167.37 L58.12,164.45 L58.32,164.47 L58.53,167.33 L58.73,165.19 L58.93,165.10 L59.14,164.49 L59.34,168.18 L59.54,167.47 L59.75,168.44 L59.95,165.17 L60.15,166.42 L60.36,164.87 L60.56,167.43 L60.77,168.52 L60.97,165.16 L61.17,168.45 L61.38,167.66 L61.58,166.06 L61.78,163.62 L61.99,168.16 L62.19,166.11 L62.40,165.43 L62.60,166.79 L62.80,166.81 L63.01,168.29 L63.21,164.90 L63.41,167.82 L63.62,168.30 L63.82,168.25 L64.03,166.05 L64.23,165.29 L64.43,167.67 L64.64,166.45 L64.84,166.46 L65.04,168.22 L65.25,165.93 L65.45,163.18 L65.65,165.75 L65.86,163.76 L66.06,167.36 L66.27,166.67 L66.47,165.41 L66.67,166.20 L66.88,167.32 L67.08,166.28 L67.28,167.95 L67.49,166.05 L67.69,167.51 L67.90,168.09 L68.10,168.22 L68.30,165.11 L68.51,167.16 L68.71,163.40 L68.91,164.43 L69.12,163.20 L69.32,167.24 L69.53,164.08 L69.73,165.67 L69.93,165.37 L70.14,165.52 L70.34,164.70 L70.54,165.73 L70.75,167.76 L70.95,165.31 L71.15,165.88 L71.36,166.41 L71.56,164.69 L71.77,163.14 L71.97,163.97 L72.17,166.05 L72.38,162.24 L72.58,163.50 L72.78,165.51 L72.99,165.05 L73.19,163.81 L73.40,164.69 L73.60,163.62 L73.80,161.58 L74.01,160.81 L74.21,161.80 L74.41,163.63 L74.62,161.32 L74.82,160.54 L75.02,160.36 L75.23,158.95 L75.43,160.45 L75.64,158.57 L75.84,160.18 L76.04,155.98 L76.25,159.04 L76.45,157.12 L76.65,154.69 L76.86,157.57 L77.06,155.43 L77.27,151.93 L77.47,152.82 L77.67,153.37 L77.88,151.24 L78.08,151.67 L78.28,150.27 L78.49,148.65 L78.69,146.51 L78.90,145.97 L79.10,142.92 L79.30,140.20 L79.51,134.00 L79.71,134.92 L79.91,132.14 L80.12,126.69 L80.32,123.80 L80.52,125.67 L80.73,121.00 L80.93,125.93 L81.14,131.48 L81.34,130.22 L81.54,135.57 L81.75,140.07 L81.95,139.89 L82.15,143.02 L82.36,145.41 L82.56,144.66 L82.77,147.26 L82.97,149.11 L83.17,151.03 L83.38,150.93 L83.58,151.68 L83.78,151.43 L83.99,153.10 L84.19,155.48 L84.40,155.03 L84.60,154.30 L84.80,154.80 L85.01,159.97 L85.21,158.29 L85.41,157.94 L85.62,153.86 L85.82,158.43 L86.02,158.44 L86.23,160.21 L86.43,158.63 L86.64,158.04 L86.84,158.87 L87.04,155.55 L87.25,159.53 L87.45,158.51 L87.65,157.02 L87.86,159.62 L88.06,160.10 L88.27,155.56 L88.47,156.30 L88.67,157.31 L88.88,156.84 L89.08,155.69 L89.28,154.50 L89.49,158.22 L89.69,156.25 L89.90,152.68 L90.10,151.86 L90.30,155.31 L90.51,153.60 L90.71,153.92 L90.91,151.68 L91.12,148.45 L91.32,148.93 L91.52,144.50 L91.73,145.13 L91.93,144.67 L92.14,143.95 L92.34,140.62 L92.54,139.64 L92.75,138.48 L92.95,136.25 L93.15,134.28 L93.36,131.18 L93.56,127.69 L93.77,126.17 L93.97,121.85 L94.17,117.02 L94.38,113.26 L94.58,109.64 L94.78,104.51 L94.99,99.28 L95.19,92.74 L95.39,85.77 L95.60,77.14 L95.80,66.35 L96.01,58.48 L96.21,49.07 L96.41,39.32 L96.62,32.99 L96.82,33.47 L97.02,36.44 L97.23,43.78 L97.43,56.64 L97.64,65.55 L97.84,77.27 L98.04,83.21 L98.25,88.51 L98.45,97.14 L98.65,106.40 L98.86,108.86 L99.06,112.10 L99.27,117.05 L99.47,122.53 L99.67,125.90 L99.88,128.59 L100.08,133.20 L100.28,134.76 L100.49,136.18 L100.69,139.21 L100.89,142.67 L101.10,143.61 L101.30,145.41 L101.51,144.15 L101.71,146.88 L101.91,149.42 L102.12,149.29 L102.32,152.30 L102.52,152.74 L102.73,154.16 L102.93,153.58 L103.14,158.17 L103.34,157.21 L103.54,155.99 L103.75,157.11 L103.95,161.14 L104.15,157.78 L104.36,160.00 L104.56,160.67 L104.77,159.86 L104.97,158.74 L105.17,161.01 L105.38,161.65 L105.58,163.08 L105.78,162.98 L105.99,162.29 L106.19,163.71 L106.39,163.58 L106.60,163.39 L106.80,163.44 L107.01,163.28 L107.21,164.75 L107.41,162.61 L107.62,163.38 L107.82,164.41 L108.02,162.60 L108.23,164.14 L108.43,162.16 L108.64,164.09 L108.84,165.90 L109.04,166.01 L109.25,165.28 L109.45,165.13 L109.65,163.62 L109.86,168.07 L110.06,166.37 L110.27,167.21 L110.47,164.60 L110.67,165.58 L110.88,163.41 L111.08,166.94 L111.28,167.17 L111.49,163.35 L111.69,165.84 L111.89,166.75 L112.10,163.50 L112.30,163.39 L112.51,164.38 L112.71,164.92 L112.91,163.81 L113.12,165.67 L113.32,165.88 L113.52,166.31 L113.73,166.29 L113.93,167.24 L114.14,166.64 L114.34,163.14 L114.54,164.06 L114.75,163.11 L114.95,162.87 L115.15,163.98 L115.36,163.83 L115.56,164.19 L115.76,161.06 L115.97,161.18 L116.17,162.43 L116.38,161.77 L116.58,161.15 L116.78,160.97 L116.99,159.46 L117.19,160.80 L117.39,159.64 L117.60,158.28 L117.80,156.63 L118.01,156.34 L118.21,151.82 L118.41,152.93 L118.62,152.90 L118.82,149.21 L119.02,149.71 L119.23,147.72 L119.43,143.82 L119.64,143.91 L119.84,143.20 L120.04,144.62 L120.25,146.09 L120.45,147.00 L120.65,147.85 L120.86,150.69 L121.06,152.49 L121.26,155.07 L121.47,155.79 L121.67,155.58 L121.88,155.76 L122.08,158.00 L122.28,158.34 L122.49,158.58 L122.69,160.61 L122.89,160.73 L123.10,162.10 L123.30,163.19 L123.51,162.40 L123.71,166.54 L123.91,163.37 L124.12,165.67 L124.32,164.69 L124.52,166.35 L124.73,161.93 L124.93,164.40 L125.14,166.00 L125.34,166.71 L125.54,169.27 L125.75,166.75 L125.95,168.23 L126.15,167.71 L126.36,168.11 L126.56,167.68 L126.76,166.92 L126.97,167.95 L127.17,165.93 L127.38,169.09 L127.58,166.23 L127.78,168.04 L127.99,170.66 L128.19,167.59 L128.39,168.00 L128.60,169.62 L128.80,168.16 L129.01,167.10 L129.21,168.60 L129.41,169.10 L129.62,169.33 L129.82,167.39 L130.02,170.85 L130.23,170.78 L130.43,168.60 L130.64,168.98 L130.84,168.08 L131.04,170.60 L131.25,167.78 L131.45,169.67 L131.65,168.14 L131.86,167.88 L132.06,169.82 L132.26,170.67 L132.47,168.88 L132.67,168.00 L132.88,170.04 L133.08,168.89 L133.28,169.40 L133.49,171.05 L133.69,170.54 L133.89,168.32 L134.10,172.12 L134.30,169.05 L134.51,170.12 L134.71,168.19 L134.91,169.01 L135.12,166.74 L135.32,171.55 L135.52,171.02 L135.73,167.57 L135.93,167.22 L136.13,167.09 L136.34,170.90 L136.54,168.73 L136.75,169.30 L136.95,168.99 L137.15,169.28 L137.36,168.00 L137.56,169.53 L137.76,167.58 L137.97,169.45 L138.17,169.99 L138.38,170.23 L138.58,169.31 L138.78,168.42 L138.99,169.88 L139.19,169.03 L139.39,171.81 L139.60,170.75 L139.80,169.58 L140.01,169.11 L140.21,168.81 L140.41,168.51 L140.62,169.31 L140.82,170.19 L141.02,170.50 L141.23,170.58 L141.43,172.65 L141.63,168.87 L141.84,169.84 L142.04,173.59 L142.25,167.30 L142.45,169.11 L142.65,170.04 L142.86,170.01 L143.06,170.34 L143.26,169.45 L143.47,170.25 L143.67,169.81 L143.88,170.76 L144.08,167.14 L144.28,168.47 L144.49,169.63 L144.69,168.20 L144.89,168.14 L145.10,170.35 L145.30,168.57 L145.51,170.25 L145.71,170.34 L145.91,169.68 L146.12,169.87 L146.32,168.96 L146.52,167.11 L146.73,168.86 L146.93,169.41 L147.13,167.95 L147.34,168.40 L147.54,169.40 L147.75,167.04 L147.95,168.91 L148.15,170.36 L148.36,166.89 L148.56,167.60 L148.76,166.94 L148.97,168.94 L149.17,166.97 L149.38,167.40 L149.58,164.87 L149.78,165.35 L149.99,164.87 L150.19,161.94 L150.39,165.65 L150.60,164.20 L150.80,159.83 L151.01,162.37 L151.21,160.42 L151.41,160.66 L151.62,160.36 L151.82,158.08 L152.02,160.38 L152.23,163.42 L152.43,161.39 L152.63,161.49 L152.84,161.66 L153.04,162.39 L153.25,164.95 L153.45,167.17 L153.65,165.80 L153.86,165.83 L154.06,168.76 L154.26,165.24 L154.47,165.20 L154.67,166.96 L154.88,167.09 L155.08,165.05 L155.28,164.89 L155.49,166.88 L155.69,166.81 L155.89,164.67 L156.10,166.10 L156.30,165.55 L156.50,166.78 L156.71,165.86 L156.91,165.72 L157.12,165.14 L157.32,166.80 L157.52,166.97 L157.73,164.28 L157.93,165.56 L158.13,163.00 L158.34,163.67 L158.54,164.09 L158.75,164.57 L158.95,161.40 L159.15,161.14 L159.36,160.75 L159.56,157.64 L159.76,158.76 L159.97,156.81 L160.17,157.09 L160.38,153.78 L160.58,151.20 L160.78,152.29 L160.99,150.73 L161.19,147.50 L161.39,147.03 L161.60,142.79 L161.80,139.60 L162.00,138.61 L162.21,134.23 L162.41,135.15 L162.62,137.19 L162.82,140.60 L163.02,141.97 L163.23,145.40 L163.43,146.71 L163.63,150.32 L163.84,154.20 L164.04,152.82 L164.25,158.52 L164.45,155.84 L164.65,157.98 L164.86,159.31 L165.06,161.48 L165.26,159.35 L165.47,159.02 L165.67,163.44 L165.88,164.39 L166.08,164.80 L166.28,168.09 L166.49,165.35 L166.69,165.90 L166.89,167.26 L167.10,166.91 L167.30,169.03 L167.50,165.45 L167.71,166.92 L167.91,163.06 L168.12,169.06 L168.32,167.69 L168.52,169.65 L168.73,171.50 L168.93,168.75 L169.13,168.56 L169.34,168.36 L169.54,168.01 L169.75,168.39 L169.95,170.18 L170.15,169.44 L170.36,169.52 L170.56,169.24 L170.76,170.72 L170.97,170.16 L171.17,169.29 L171.38,170.35 L171.58,169.21 L171.78,167.80 L171.99,171.25 L172.19,169.82 L172.39,167.79 L172.60,170.41 L172.80,169.28 L173.00,166.53 L173.21,170.63 L173.41,168.69 L173.62,169.21 L173.82,168.01 L174.02,167.25 L174.23,165.03 L174.43,168.07 L174.63,166.41 L174.84,165.54 L175.04,165.92 L175.25,165.02 L175.45,165.25 L175.65,163.19 L175.86,162.94 L176.06,159.33 L176.26,160.80 L176.47,161.35 L176.67,161.20 L176.87,157.76 L177.08,156.81 L177.28,157.69 L177.49,153.50 L177.69,153.11 L177.89,152.30 L178.10,147.71 L178.30,146.63 L178.50,141.07 L178.71,139.32 L178.91,136.33 L179.12,134.99 L179.32,136.26 L179.52,139.40 L179.73,137.81 L179.93,140.94 L180.13,145.40 L180.34,146.09 L180.54,150.66 L180.75,152.94 L180.95,153.70 L181.15,156.48 L181.36,155.18 L181.56,159.65 L181.76,157.75 L181.97,160.00 L182.17,161.20 L182.37,162.33 L182.58,164.87 L182.78,164.59 L182.99,164.66 L183.19,166.58 L183.39,168.58 L183.60,167.01 L183.80,168.00 L184.00,169.65 L184.21,168.78 L184.41,167.09 L184.62,172.55 L184.82,172.52 L185.02,167.18 L185.23,170.11 L185.43,171.00 L185.63,172.00 L185.84,171.84 L186.04,170.79 L186.25,169.95 L186.45,171.71 L186.65,173.15 L186.86,170.45 L187.06,170.70 L187.26,172.20 L187.47,169.76 L187.67,172.16 L187.87,172.05 L188.08,173.37 L188.28,171.92 L188.49,171.78 L188.69,172.54 L188.89,173.10 L189.10,172.36 L189.30,173.36 L189.50,174.43 L189.71,175.10 L189.91,175.87 L190.12,172.58 L190.32,173.13 L190.52,170.41 L190.73,176.38 L190.93,172.90 L191.13,173.88 L191.34,174.68 L191.54,172.19 L191.74,174.70 L191.95,174.08 L192.15,171.69 L192.36,174.59 L192.56,175.84 L192.76,171.75 L192.97,175.39 L193.17,174.62 L193.37,175.01 L193.58,175.00 L193.78,176.20 L193.99,174.17 L194.19,175.68 L194.39,173.98 L194.60,175.54 L194.80,173.49 L195.00,174.47 L195.21,176.97 L195.41,175.26 L195.62,174.47 L195.82,173.16 L196.02,173.66 L196.23,175.01 L196.43,176.04 L196.63,175.37 L196.84,175.52 L197.04,174.77 L197.24,176.67 L197.45,174.33 L197.65,174.13 L197.86,176.09 L198.06,174.99 L198.26,174.54 L198.47,174.15 L198.67,174.60 L198.87,175.80 L199.08,175.44 L199.28,173.34 L199.49,175.56 L199.69,175.24 L199.89,173.65 L200.10,176.05 L200.30,174.64 L200.50,174.57 L200.71,176.11 L200.91,176.82 L201.12,174.11 L201.32,175.64 L201.52,173.87 L201.73,178.18 L201.93,174.39 L202.13,176.67 L202.34,174.18 L202.54,176.15 L202.74,178.05 L202.95,171.62 L203.15,174.46 L203.36,175.72 L203.56,174.92 L203.76,174.14 L203.97,177.94 L204.17,175.13 L204.37,172.80 L204.58,176.16 L204.78,172.67 L204.99,176.54 L205.19,174.19 L205.39,175.15 L205.60,176.64 L205.80,175.08 L206.00,173.03 L206.21,172.59 L206.41,176.46 L206.62,175.83 L206.82,173.71 L207.02,175.94 L207.23,175.41 L207.43,175.58 L207.63,171.62 L207.84,174.23 L208.04,175.83 L208.24,175.58 L208.45,175.74 L208.65,171.20 L208.86,174.70 L209.06,175.09 L209.26,177.82 L209.47,173.03 L209.67,173.80 L209.87,174.22 L210.08,175.28 L210.28,173.40 L210.49,175.44 L210.69,172.71 L210.89,174.01 L211.10,172.79 L211.30,173.56 L211.50,172.24 L211.71,170.82 L211.91,174.23 L212.11,172.92 L212.32,171.49 L212.52,172.21 L212.73,172.93 L212.93,169.87 L213.13,170.59 L213.34,170.94 L213.54,170.33 L213.74,168.53 L213.95,165.50 L214.15,169.48 L214.36,167.96 L214.56,167.58 L214.76,167.58 L214.97,168.92 L215.17,168.69 L215.37,168.58 L215.58,169.60 L215.78,170.36 L215.99,170.84 L216.19,170.55 L216.39,173.36 L216.60,171.09 L216.80,174.07 L217.00,172.10 L217.21,174.22 L217.41,175.84 L217.61,174.49 L217.82,173.44 L218.02,174.69 L218.23,175.00 L218.43,172.63 L218.63,174.31 L218.84,175.50 L219.04,174.78 L219.24,175.65 L219.45,176.66 L219.65,176.81 L219.86,177.11 L220.06,176.78 L220.26,175.70 L220.47,176.15 L220.67,175.90 L220.87,175.92 L221.08,176.18 L221.28,174.17 L221.49,176.12 L221.69,176.61 L221.89,175.39 L222.10,176.74 L222.30,177.53 L222.50,176.66 L222.71,179.74 L222.91,173.47 L223.11,176.76 L223.32,174.63 L223.52,178.46 L223.73,180.77 L223.93,173.85 L224.13,177.45 L224.34,178.02 L224.54,176.95 L224.74,178.14 L224.95,174.41 L225.15,178.63 L225.36,178.02 L225.56,177.58 L225.76,176.79 L225.97,178.49 L226.17,177.00 L226.37,177.99 L226.58,177.04 L226.78,174.73 L226.99,177.75 L227.19,178.10 L227.39,178.88 L227.60,176.71 L227.80,177.88 L228.00,178.79 L228.21,178.18 L228.41,179.69 L228.61,180.73 L228.82,176.85 L229.02,175.51 L229.23,179.29 L229.43,180.22 L229.63,179.43 L229.84,179.31 L230.04,177.41 L230.24,177.31 L230.45,179.50 L230.65,177.10 L230.86,175.91 L231.06,177.03 L231.26,181.77 L231.47,181.03 L231.67,177.53 L231.87,177.50 L232.08,178.83 L232.28,177.53 L232.48,180.33 L232.69,178.48 L232.89,177.15 L233.10,180.41 L233.30,177.88 L233.50,178.99 L233.71,178.70 L233.91,178.32 L234.11,179.21 L234.32,177.86 L234.52,176.33 L234.73,175.86 L234.93,177.16 L235.13,177.87 L235.34,178.89 L235.54,179.02 L235.74,179.72 L235.95,179.15 L236.15,177.94 L236.36,178.08 L236.56,176.20 L236.76,178.86 L236.97,179.76 L237.17,179.84 L237.37,178.98 L237.58,178.92 L237.78,180.44 L237.98,179.21 L238.19,180.20 L238.39,180.01 L238.60,179.53 L238.80,181.02 L239.00,178.50 L239.21,178.80 L239.41,178.21 L239.61,178.24 L239.82,181.44 L240.02,181.73 L240.23,179.40 L240.43,180.15 L240.63,180.99 L240.84,180.51 L241.04,181.06 L241.24,177.74 L241.45,178.60 L241.65,180.09 L241.86,181.44 L242.06,179.65 L242.26,178.37 L242.47,179.07 L242.67,178.67 L242.87,178.42 L243.08,181.62 L243.28,178.76 L243.48,179.65 L243.69,182.56 L243.89,181.25 L244.10,180.12 L244.30,178.86 L244.50,180.26 L244.71,181.91 L244.91,180.57 L245.11,181.45 L245.32,179.90 L245.52,180.48 L245.73,179.52 L245.93,180.39 L246.13,181.58 L246.34,177.91 L246.54,179.77 L246.74,180.20 L246.95,179.12 L247.15,179.49 L247.36,180.98 L247.56,182.64 L247.76,180.80 L247.97,180.40 L248.17,177.88 L248.37,182.60 L248.58,180.11 L248.78,179.98 L248.98,178.53 L249.19,179.98 L249.39,178.59 L249.60,180.18 L249.80,180.73 L250.00,180.16 L250.21,180.51 L250.41,179.00 L250.61,182.09 L250.82,179.29 L251.02,177.74 L251.23,179.95" fill="none" stroke="#1a5fd0" stroke-width="1.35" stroke-linejoin="round" />
<rect x="18.6" y="15.7" width="233.0" height="222.4" fill="none" stroke="#000" stroke-width="1.45"/>
<line x1="18.60" y1="238.1" x2="18.60" y2="242.5" stroke="#000" stroke-width="1.3"/>
<line x1="33.15" y1="238.1" x2="33.15" y2="240.7" stroke="#000" stroke-width="1.3"/>
<line x1="47.70" y1="238.1" x2="47.70" y2="242.5" stroke="#000" stroke-width="1.3"/>
<line x1="62.25" y1="238.1" x2="62.25" y2="240.7" stroke="#000" stroke-width="1.3"/>
<line x1="76.80" y1="238.1" x2="76.80" y2="242.5" stroke="#000" stroke-width="1.3"/>
<line x1="91.35" y1="238.1" x2="91.35" y2="240.7" stroke="#000" stroke-width="1.3"/>
<line x1="105.90" y1="238.1" x2="105.90" y2="242.5" stroke="#000" stroke-width="1.3"/>
<line x1="120.45" y1="238.1" x2="120.45" y2="240.7" stroke="#000" stroke-width="1.3"/>
<line x1="135.00" y1="238.1" x2="135.00" y2="242.5" stroke="#000" stroke-width="1.3"/>
<line x1="149.55" y1="238.1" x2="149.55" y2="240.7" stroke="#000" stroke-width="1.3"/>
<line x1="164.10" y1="238.1" x2="164.10" y2="242.5" stroke="#000" stroke-width="1.3"/>
<line x1="178.65" y1="238.1" x2="178.65" y2="240.7" stroke="#000" stroke-width="1.3"/>
<line x1="193.20" y1="238.1" x2="193.20" y2="242.5" stroke="#000" stroke-width="1.3"/>
<line x1="207.75" y1="238.1" x2="207.75" y2="240.7" stroke="#000" stroke-width="1.3"/>
<line x1="222.30" y1="238.1" x2="222.30" y2="242.5" stroke="#000" stroke-width="1.3"/>
<line x1="236.85" y1="238.1" x2="236.85" y2="240.7" stroke="#000" stroke-width="1.3"/>
<line x1="251.40" y1="238.1" x2="251.40" y2="242.5" stroke="#000" stroke-width="1.3"/>
<text x="0" y="0" font-size="11.8" font-weight="bold" text-anchor="middle" fill="#000" transform="translate(18.30,255.9) scale(0.92,1)" stroke="#000" stroke-width="0.3">10</text>
<text x="0" y="0" font-size="11.8" font-weight="bold" text-anchor="middle" fill="#000" transform="translate(47.40,255.9) scale(0.92,1)" stroke="#000" stroke-width="0.3">20</text>
<text x="0" y="0" font-size="11.8" font-weight="bold" text-anchor="middle" fill="#000" transform="translate(76.50,255.9) scale(0.92,1)" stroke="#000" stroke-width="0.3">30</text>
<text x="0" y="0" font-size="11.8" font-weight="bold" text-anchor="middle" fill="#000" transform="translate(105.60,255.9) scale(0.92,1)" stroke="#000" stroke-width="0.3">40</text>
<text x="0" y="0" font-size="11.8" font-weight="bold" text-anchor="middle" fill="#000" transform="translate(134.70,255.9) scale(0.92,1)" stroke="#000" stroke-width="0.3">50</text>
<text x="0" y="0" font-size="11.8" font-weight="bold" text-anchor="middle" fill="#000" transform="translate(163.80,255.9) scale(0.92,1)" stroke="#000" stroke-width="0.3">60</text>
<text x="0" y="0" font-size="11.8" font-weight="bold" text-anchor="middle" fill="#000" transform="translate(192.90,255.9) scale(0.92,1)" stroke="#000" stroke-width="0.3">70</text>
<text x="0" y="0" font-size="11.8" font-weight="bold" text-anchor="middle" fill="#000" transform="translate(222.00,255.9) scale(0.92,1)" stroke="#000" stroke-width="0.3">80</text>
<text x="0" y="0" font-size="11.8" font-weight="bold" text-anchor="middle" fill="#000" transform="translate(251.10,255.9) scale(0.92,1)" stroke="#000" stroke-width="0.3">90</text>
<text x="0" y="0" font-size="14.3" font-weight="bold" text-anchor="middle" fill="#000" transform="translate(135,270.6) scale(0.878,1)" stroke="#000" stroke-width="0.3">2 Theta (Deg.)</text>
<text x="0" y="0" font-size="13.8" font-weight="bold" text-anchor="middle" fill="#000" transform="translate(12.8,121.7) rotate(-90) scale(1.045,1)" stroke="#000" stroke-width="0.3">Intensity(a.u.)</text>
<text x="0" y="0" font-size="28" font-weight="bold" text-anchor="start" fill="#000" transform="translate(2.0,21.7) scale(0.68,1)" stroke="#000" stroke-width="0.3">a</text>
<text x="0" y="0" font-size="9.6" font-weight="bold" text-anchor="middle" fill="#000" transform="translate(43.7,147.3) scale(0.95,1)" stroke="#000" stroke-width="0.1">(111)</text>
<text x="0" y="0" font-size="9.6" font-weight="bold" text-anchor="middle" fill="#000" transform="translate(79.8,120.9) scale(0.95,1)" stroke="#000" stroke-width="0.1">(220)</text>
<text x="0" y="0" font-size="9.6" font-weight="bold" text-anchor="middle" fill="#000" transform="translate(95.6,29.3) scale(0.95,1)" stroke="#000" stroke-width="0.1">(311)</text>
<text x="0" y="0" font-size="9.6" font-weight="bold" text-anchor="middle" fill="#000" transform="translate(119.2,140.9) scale(0.95,1)" stroke="#000" stroke-width="0.1">(400)</text>
<text x="0" y="0" font-size="9.6" font-weight="bold" text-anchor="middle" fill="#000" transform="translate(159.5,133.5) scale(0.95,1)" stroke="#000" stroke-width="0.1">(511)</text>
<text x="0" y="0" font-size="9.6" font-weight="bold" text-anchor="middle" fill="#000" transform="translate(180.7,132.2) scale(0.95,1)" stroke="#000" stroke-width="0.1">(440)</text>
<text x="0" y="0" font-size="9.6" font-weight="bold" text-anchor="middle" fill="#000" transform="translate(214.5,165.2) scale(0.95,1)" stroke="#000" stroke-width="0.1">(533)</text>
<text x="0" y="0" font-size="9.6" font-weight="bold" text-anchor="start" fill="#000" transform="translate(140.7,157.0) scale(0.95,1)" stroke="#000" stroke-width="0.1">(422</text>
<text x="0" y="0" font-size="15.4" font-weight="bold" text-anchor="start" fill="#000" transform="translate(191.3,149.1) scale(0.81,1)" stroke="#000" stroke-width="0.3">Zn<tspan font-size="11" dy="3.9">0.4</tspan><tspan font-size="15.4" dy="-3.9">CoO</tspan><tspan font-size="10" dy="3.4">x</tspan></text>
<text x="0" y="0" font-size="15.4" font-weight="bold" text-anchor="start" fill="#000" transform="translate(188.8,200.2) scale(0.8,1)" stroke="#000" stroke-width="0.3">Zn<tspan font-size="11" dy="3.9">0.05</tspan><tspan font-size="15.4" dy="-3.9">CoO</tspan><tspan font-size="10" dy="3.4">x</tspan></text>
<text x="0" y="0" font-size="15.4" font-weight="bold" text-anchor="start" fill="#000" transform="translate(206.6,227.6) scale(0.78,1)" stroke="#000" stroke-width="0.3">Co<tspan font-size="11" dy="3.6">3</tspan><tspan font-size="15.4" dy="-3.6">O</tspan><tspan font-size="11" dy="3.6">4</tspan></text>
<path d="M319.30,230.00 L319.80,226.50 L320.60,223.50 L322.30,221.00 L325.00,219.50 L330.00,218.50 L340.00,217.80 L350.00,217.00 L360.00,215.80 L374.90,214.10 L385.40,212.80 L396.80,211.50 L407.70,210.20 L418.70,209.00 L429.80,207.80 L441.60,204.80 L451.70,202.70 L462.30,200.40 L473.90,198.10 L484.90,195.50 L496.60,192.80 L502.00,189.80 L507.30,186.80 L513.30,182.20 L518.80,175.50 L524.40,166.00 L529.80,150.70 L533.50,125.00 L536.50,95.00 L538.50,65.00 L539.60,44.40" fill="none" stroke="#505050" stroke-width="1.5" stroke-linejoin="round" />
<path d="M539.60,44.40 L536.30,53.40 L534.50,63.30 L533.00,84.90 L528.00,101.00 L523.40,117.90 L518.80,140.80 L512.90,162.00 L507.50,172.00 L502.20,181.00 L497.00,187.00 L490.00,191.00 L484.90,195.50" fill="none" stroke="#505050" stroke-width="1.5" stroke-linejoin="round" />
<rect x="317.15" y="227.85" width="4.3" height="4.3" fill="#505050"/>
<rect x="317.65" y="224.35" width="4.3" height="4.3" fill="#505050"/>
<rect x="318.45" y="221.35" width="4.3" height="4.3" fill="#505050"/>
<rect x="320.15" y="218.85" width="4.3" height="4.3" fill="#505050"/>
<rect x="322.85" y="217.35" width="4.3" height="4.3" fill="#505050"/>
<rect x="322.85" y="217.35" width="4.3" height="4.3" fill="#505050"/>
<rect x="327.75" y="216.37" width="4.3" height="4.3" fill="#505050"/>
<rect x="332.65" y="216.01" width="4.3" height="4.3" fill="#505050"/>
<rect x="337.55" y="215.67" width="4.3" height="4.3" fill="#505050"/>
<rect x="342.45" y="215.28" width="4.3" height="4.3" fill="#505050"/>
<rect x="347.35" y="214.89" width="4.3" height="4.3" fill="#505050"/>
<rect x="352.25" y="214.32" width="4.3" height="4.3" fill="#505050"/>
<rect x="357.15" y="213.73" width="4.3" height="4.3" fill="#505050"/>
<rect x="362.05" y="213.17" width="4.3" height="4.3" fill="#505050"/>
<rect x="366.95" y="212.61" width="4.3" height="4.3" fill="#505050"/>
<rect x="383.25" y="210.65" width="4.3" height="4.3" fill="#505050"/>
<rect x="394.65" y="209.35" width="4.3" height="4.3" fill="#505050"/>
<rect x="405.55" y="208.05" width="4.3" height="4.3" fill="#505050"/>
<rect x="416.55" y="206.85" width="4.3" height="4.3" fill="#505050"/>
<rect x="427.65" y="205.65" width="4.3" height="4.3" fill="#505050"/>
<rect x="439.45" y="202.65" width="4.3" height="4.3" fill="#505050"/>
<rect x="449.55" y="200.55" width="4.3" height="4.3" fill="#505050"/>
<rect x="460.15" y="198.25" width="4.3" height="4.3" fill="#505050"/>
<rect x="471.75" y="195.95" width="4.3" height="4.3" fill="#505050"/>
<rect x="482.75" y="193.35" width="4.3" height="4.3" fill="#505050"/>
<rect x="494.45" y="190.65" width="4.3" height="4.3" fill="#505050"/>
<rect x="499.85" y="187.65" width="4.3" height="4.3" fill="#505050"/>
<rect x="505.15" y="184.65" width="4.3" height="4.3" fill="#505050"/>
<rect x="511.15" y="180.05" width="4.3" height="4.3" fill="#505050"/>
<rect x="516.65" y="173.35" width="4.3" height="4.3" fill="#505050"/>
<rect x="522.25" y="163.85" width="4.3" height="4.3" fill="#505050"/>
<rect x="527.65" y="148.55" width="4.3" height="4.3" fill="#505050"/>
<rect x="531.35" y="122.85" width="4.3" height="4.3" fill="#505050"/>
<rect x="534.35" y="92.85" width="4.3" height="4.3" fill="#505050"/>
<rect x="536.35" y="62.85" width="4.3" height="4.3" fill="#505050"/>
<rect x="537.45" y="42.25" width="4.3" height="4.3" fill="#505050"/>
<rect x="534.15" y="51.25" width="4.3" height="4.3" fill="#505050"/>
<rect x="532.35" y="61.15" width="4.3" height="4.3" fill="#505050"/>
<rect x="530.85" y="82.75" width="4.3" height="4.3" fill="#505050"/>
<rect x="525.85" y="98.85" width="4.3" height="4.3" fill="#505050"/>
<rect x="521.25" y="115.75" width="4.3" height="4.3" fill="#505050"/>
<rect x="516.65" y="138.65" width="4.3" height="4.3" fill="#505050"/>
<rect x="510.75" y="159.85" width="4.3" height="4.3" fill="#505050"/>
<rect x="505.35" y="169.85" width="4.3" height="4.3" fill="#505050"/>
<rect x="500.05" y="178.85" width="4.3" height="4.3" fill="#505050"/>
<rect x="494.85" y="184.85" width="4.3" height="4.3" fill="#505050"/>
<rect x="487.85" y="188.85" width="4.3" height="4.3" fill="#505050"/>
<path d="M319.30,229.50 L319.80,225.50 L320.60,222.00 L322.30,219.30 L324.80,217.60 L330.00,216.80 L340.00,216.00 L350.00,215.20 L360.00,213.80 L374.90,211.00 L385.40,209.50 L396.80,208.20 L407.70,206.80 L418.70,205.20 L429.80,203.50 L441.60,201.90 L451.70,199.90 L462.30,197.60 L473.90,194.70 L484.90,190.80 L496.60,187.80 L501.40,184.80 L507.30,179.90 L512.90,174.90 L518.40,168.00 L523.40,156.60 L529.80,135.80 L535.20,102.90 L538.10,48.90 L539.90,27.60" fill="none" stroke="#e8403c" stroke-width="1.5" stroke-linejoin="round" />
<path d="M539.90,27.60 L536.70,38.00 L534.50,48.50 L529.40,70.40 L524.00,93.00 L518.80,116.00 L512.90,138.80 L507.00,161.20 L501.40,174.30 L496.60,181.80 L490.00,186.50 L484.90,189.50 L473.90,194.00 L462.30,197.60" fill="none" stroke="#e8403c" stroke-width="1.5" stroke-linejoin="round" />
<circle cx="319.30" cy="229.50" r="2.45" fill="#e8403c"/>
<circle cx="319.80" cy="225.50" r="2.45" fill="#e8403c"/>
<circle cx="320.60" cy="222.00" r="2.45" fill="#e8403c"/>
<circle cx="322.30" cy="219.30" r="2.45" fill="#e8403c"/>
<circle cx="324.80" cy="217.60" r="2.45" fill="#e8403c"/>
<circle cx="325.00" cy="217.57" r="2.45" fill="#e8403c"/>
<circle cx="329.90" cy="216.82" r="2.45" fill="#e8403c"/>
<circle cx="334.80" cy="216.42" r="2.45" fill="#e8403c"/>
<circle cx="339.70" cy="216.02" r="2.45" fill="#e8403c"/>
<circle cx="344.60" cy="215.63" r="2.45" fill="#e8403c"/>
<circle cx="349.50" cy="215.24" r="2.45" fill="#e8403c"/>
<circle cx="354.40" cy="214.58" r="2.45" fill="#e8403c"/>
<circle cx="359.30" cy="213.90" r="2.45" fill="#e8403c"/>
<circle cx="364.20" cy="213.01" r="2.45" fill="#e8403c"/>
<circle cx="369.10" cy="212.09" r="2.45" fill="#e8403c"/>
<circle cx="385.40" cy="209.50" r="2.45" fill="#e8403c"/>
<circle cx="396.80" cy="208.20" r="2.45" fill="#e8403c"/>
<circle cx="407.70" cy="206.80" r="2.45" fill="#e8403c"/>
<circle cx="418.70" cy="205.20" r="2.45" fill="#e8403c"/>
<circle cx="429.80" cy="203.50" r="2.45" fill="#e8403c"/>
<circle cx="441.60" cy="201.90" r="2.45" fill="#e8403c"/>
<circle cx="451.70" cy="199.90" r="2.45" fill="#e8403c"/>
<circle cx="462.30" cy="197.60" r="2.45" fill="#e8403c"/>
<circle cx="473.90" cy="194.70" r="2.45" fill="#e8403c"/>
<circle cx="484.90" cy="190.80" r="2.45" fill="#e8403c"/>
<circle cx="496.60" cy="187.80" r="2.45" fill="#e8403c"/>
<circle cx="501.40" cy="184.80" r="2.45" fill="#e8403c"/>
<circle cx="507.30" cy="179.90" r="2.45" fill="#e8403c"/>
<circle cx="512.90" cy="174.90" r="2.45" fill="#e8403c"/>
<circle cx="518.40" cy="168.00" r="2.45" fill="#e8403c"/>
<circle cx="523.40" cy="156.60" r="2.45" fill="#e8403c"/>
<circle cx="529.80" cy="135.80" r="2.45" fill="#e8403c"/>
<circle cx="535.20" cy="102.90" r="2.45" fill="#e8403c"/>
<circle cx="538.10" cy="48.90" r="2.45" fill="#e8403c"/>
<circle cx="539.90" cy="27.60" r="2.45" fill="#e8403c"/>
<circle cx="536.70" cy="38.00" r="2.45" fill="#e8403c"/>
<circle cx="534.50" cy="48.50" r="2.45" fill="#e8403c"/>
<circle cx="529.40" cy="70.40" r="2.45" fill="#e8403c"/>
<circle cx="524.00" cy="93.00" r="2.45" fill="#e8403c"/>
<circle cx="518.80" cy="116.00" r="2.45" fill="#e8403c"/>
<circle cx="512.90" cy="138.80" r="2.45" fill="#e8403c"/>
<circle cx="507.00" cy="161.20" r="2.45" fill="#e8403c"/>
<circle cx="501.40" cy="174.30" r="2.45" fill="#e8403c"/>
<circle cx="496.60" cy="181.80" r="2.45" fill="#e8403c"/>
<circle cx="490.00" cy="186.50" r="2.45" fill="#e8403c"/>
<circle cx="484.90" cy="189.50" r="2.45" fill="#e8403c"/>
<circle cx="473.90" cy="194.00" r="2.45" fill="#e8403c"/>
<path d="M319.20,229.50 L319.50,224.00 L320.00,219.00 L321.00,215.50 L322.50,213.00 L325.00,211.80 L330.00,211.00 L340.00,210.10 L350.00,208.60 L360.00,207.20 L374.00,204.00 L385.40,201.50 L392.00,200.30 L396.80,199.50 L404.00,198.40 L408.20,197.70 L418.70,196.20 L429.30,192.70 L441.60,188.90 L451.70,186.00 L462.30,182.50 L473.90,178.80 L484.90,173.50 L495.00,166.40 L500.80,162.90 L507.90,152.70 L518.80,136.80 L524.80,123.90 L529.40,107.40 L535.80,83.00 L538.10,73.10 L539.90,63.30" fill="none" stroke="#1a5fd0" stroke-width="1.8" stroke-linejoin="round" />
<path d="M539.90,63.30 L537.60,70.40 L534.00,81.00 L530.00,88.50 L525.80,91.80 L520.80,94.80 L514.30,98.70 L508.90,101.70 L501.60,106.00 L496.50,108.60 L485.80,114.80 L474.90,121.80 L463.90,132.70 L452.30,150.60 L441.00,173.90 L429.30,192.70" fill="none" stroke="#1a5fd0" stroke-width="1.8" stroke-linejoin="round" />
<path d="M319.20,226.02 L322.10,231.82 L316.30,231.82 Z" fill="#1a5fd0"/>
<path d="M319.50,220.52 L322.40,226.32 L316.60,226.32 Z" fill="#1a5fd0"/>
<path d="M320.00,215.52 L322.90,221.32 L317.10,221.32 Z" fill="#1a5fd0"/>
<path d="M321.00,212.02 L323.90,217.82 L318.10,217.82 Z" fill="#1a5fd0"/>
<path d="M322.50,209.52 L325.40,215.32 L319.60,215.32 Z" fill="#1a5fd0"/>
<path d="M325.50,208.24 L328.40,214.04 L322.60,214.04 Z" fill="#1a5fd0"/>
<path d="M330.00,207.52 L332.90,213.32 L327.10,213.32 Z" fill="#1a5fd0"/>
<path d="M334.50,207.12 L337.40,212.91 L331.60,212.91 Z" fill="#1a5fd0"/>
<path d="M339.00,206.71 L341.90,212.51 L336.10,212.51 Z" fill="#1a5fd0"/>
<path d="M343.50,206.09 L346.40,211.89 L340.60,211.89 Z" fill="#1a5fd0"/>
<path d="M348.00,205.42 L350.90,211.22 L345.10,211.22 Z" fill="#1a5fd0"/>
<path d="M352.50,204.77 L355.40,210.57 L349.60,210.57 Z" fill="#1a5fd0"/>
<path d="M357.00,204.14 L359.90,209.94 L354.10,209.94 Z" fill="#1a5fd0"/>
<path d="M361.50,203.38 L364.40,209.18 L358.60,209.18 Z" fill="#1a5fd0"/>
<path d="M366.00,202.35 L368.90,208.15 L363.10,208.15 Z" fill="#1a5fd0"/>
<path d="M370.50,201.32 L373.40,207.12 L367.60,207.12 Z" fill="#1a5fd0"/>
<path d="M374.00,200.52 L376.90,206.32 L371.10,206.32 Z" fill="#1a5fd0"/>
<path d="M385.40,198.02 L388.30,203.82 L382.50,203.82 Z" fill="#1a5fd0"/>
<path d="M392.00,196.82 L394.90,202.62 L389.10,202.62 Z" fill="#1a5fd0"/>
<path d="M396.80,196.02 L399.70,201.82 L393.90,201.82 Z" fill="#1a5fd0"/>
<path d="M404.00,194.92 L406.90,200.72 L401.10,200.72 Z" fill="#1a5fd0"/>
<path d="M408.20,194.22 L411.10,200.02 L405.30,200.02 Z" fill="#1a5fd0"/>
<path d="M418.70,192.72 L421.60,198.52 L415.80,198.52 Z" fill="#1a5fd0"/>
<path d="M429.30,189.22 L432.20,195.02 L426.40,195.02 Z" fill="#1a5fd0"/>
<path d="M441.60,185.42 L444.50,191.22 L438.70,191.22 Z" fill="#1a5fd0"/>
<path d="M451.70,182.52 L454.60,188.32 L448.80,188.32 Z" fill="#1a5fd0"/>
<path d="M462.30,179.02 L465.20,184.82 L459.40,184.82 Z" fill="#1a5fd0"/>
<path d="M473.90,175.32 L476.80,181.12 L471.00,181.12 Z" fill="#1a5fd0"/>
<path d="M484.90,170.02 L487.80,175.82 L482.00,175.82 Z" fill="#1a5fd0"/>
<path d="M495.00,162.92 L497.90,168.72 L492.10,168.72 Z" fill="#1a5fd0"/>
<path d="M500.80,159.42 L503.70,165.22 L497.90,165.22 Z" fill="#1a5fd0"/>
<path d="M507.90,149.22 L510.80,155.02 L505.00,155.02 Z" fill="#1a5fd0"/>
<path d="M518.80,133.32 L521.70,139.12 L515.90,139.12 Z" fill="#1a5fd0"/>
<path d="M524.80,120.42 L527.70,126.22 L521.90,126.22 Z" fill="#1a5fd0"/>
<path d="M529.40,103.92 L532.30,109.72 L526.50,109.72 Z" fill="#1a5fd0"/>
<path d="M535.80,79.52 L538.70,85.32 L532.90,85.32 Z" fill="#1a5fd0"/>
<path d="M538.10,69.62 L541.00,75.42 L535.20,75.42 Z" fill="#1a5fd0"/>
<path d="M539.90,59.82 L542.80,65.62 L537.00,65.62 Z" fill="#1a5fd0"/>
<path d="M534.25,70.40 L539.83,67.30 L539.83,73.50 Z" fill="#1a5fd0"/>
<path d="M530.65,81.00 L536.23,77.90 L536.23,84.10 Z" fill="#1a5fd0"/>
<path d="M526.65,88.50 L532.23,85.40 L532.23,91.60 Z" fill="#1a5fd0"/>
<path d="M522.45,91.80 L528.03,88.70 L528.03,94.90 Z" fill="#1a5fd0"/>
<path d="M517.45,94.80 L523.03,91.70 L523.03,97.90 Z" fill="#1a5fd0"/>
<path d="M510.95,98.70 L516.53,95.60 L516.53,101.80 Z" fill="#1a5fd0"/>
<path d="M505.55,101.70 L511.13,98.60 L511.13,104.80 Z" fill="#1a5fd0"/>
<path d="M498.25,106.00 L503.83,102.90 L503.83,109.10 Z" fill="#1a5fd0"/>
<path d="M493.15,108.60 L498.73,105.50 L498.73,111.70 Z" fill="#1a5fd0"/>
<path d="M482.45,114.80 L488.03,111.70 L488.03,117.90 Z" fill="#1a5fd0"/>
<path d="M471.55,121.80 L477.13,118.70 L477.13,124.90 Z" fill="#1a5fd0"/>
<path d="M460.55,132.70 L466.13,129.60 L466.13,135.80 Z" fill="#1a5fd0"/>
<path d="M448.95,150.60 L454.53,147.50 L454.53,153.70 Z" fill="#1a5fd0"/>
<path d="M437.65,173.90 L443.23,170.80 L443.23,177.00 Z" fill="#1a5fd0"/>
<rect x="312.4" y="15.8" width="232.80000000000007" height="221.1" fill="none" stroke="#000" stroke-width="1.45"/>
<line x1="308.0" y1="232.60" x2="312.4" y2="232.60" stroke="#000" stroke-width="1.3"/>
<line x1="310.4" y1="211.65" x2="312.4" y2="211.65" stroke="#000" stroke-width="1.3"/>
<line x1="308.0" y1="190.70" x2="312.4" y2="190.70" stroke="#000" stroke-width="1.3"/>
<line x1="310.4" y1="169.75" x2="312.4" y2="169.75" stroke="#000" stroke-width="1.3"/>
<line x1="308.0" y1="148.80" x2="312.4" y2="148.80" stroke="#000" stroke-width="1.3"/>
<line x1="310.4" y1="127.85" x2="312.4" y2="127.85" stroke="#000" stroke-width="1.3"/>
<line x1="308.0" y1="106.90" x2="312.4" y2="106.90" stroke="#000" stroke-width="1.3"/>
<line x1="310.4" y1="85.95" x2="312.4" y2="85.95" stroke="#000" stroke-width="1.3"/>
<line x1="308.0" y1="65.00" x2="312.4" y2="65.00" stroke="#000" stroke-width="1.3"/>
<line x1="310.4" y1="44.05" x2="312.4" y2="44.05" stroke="#000" stroke-width="1.3"/>
<line x1="308.0" y1="23.10" x2="312.4" y2="23.10" stroke="#000" stroke-width="1.3"/>
<text x="0" y="0" font-size="13.0" font-weight="bold" text-anchor="end" fill="#000" transform="translate(306.0,237.00) scale(0.85,1)" stroke="#000" stroke-width="0.3">0</text>
<text x="0" y="0" font-size="13.0" font-weight="bold" text-anchor="end" fill="#000" transform="translate(306.0,195.10) scale(0.85,1)" stroke="#000" stroke-width="0.3">50</text>
<text x="0" y="0" font-size="13.0" font-weight="bold" text-anchor="end" fill="#000" transform="translate(306.0,153.20) scale(0.85,1)" stroke="#000" stroke-width="0.3">100</text>
<text x="0" y="0" font-size="13.0" font-weight="bold" text-anchor="end" fill="#000" transform="translate(306.0,111.30) scale(0.85,1)" stroke="#000" stroke-width="0.3">150</text>
<text x="0" y="0" font-size="13.0" font-weight="bold" text-anchor="end" fill="#000" transform="translate(306.0,69.40) scale(0.85,1)" stroke="#000" stroke-width="0.3">200</text>
<text x="0" y="0" font-size="13.0" font-weight="bold" text-anchor="end" fill="#000" transform="translate(306.0,27.50) scale(0.85,1)" stroke="#000" stroke-width="0.3">250</text>
<line x1="319.20" y1="236.9" x2="319.20" y2="241.3" stroke="#000" stroke-width="1.3"/>
<line x1="341.30" y1="236.9" x2="341.30" y2="239.5" stroke="#000" stroke-width="1.3"/>
<line x1="363.40" y1="236.9" x2="363.40" y2="241.3" stroke="#000" stroke-width="1.3"/>
<line x1="385.50" y1="236.9" x2="385.50" y2="239.5" stroke="#000" stroke-width="1.3"/>
<line x1="407.60" y1="236.9" x2="407.60" y2="241.3" stroke="#000" stroke-width="1.3"/>
<line x1="429.70" y1="236.9" x2="429.70" y2="239.5" stroke="#000" stroke-width="1.3"/>
<line x1="451.80" y1="236.9" x2="451.80" y2="241.3" stroke="#000" stroke-width="1.3"/>
<line x1="473.90" y1="236.9" x2="473.90" y2="239.5" stroke="#000" stroke-width="1.3"/>
<line x1="496.00" y1="236.9" x2="496.00" y2="241.3" stroke="#000" stroke-width="1.3"/>
<line x1="518.10" y1="236.9" x2="518.10" y2="239.5" stroke="#000" stroke-width="1.3"/>
<line x1="540.20" y1="236.9" x2="540.20" y2="241.3" stroke="#000" stroke-width="1.3"/>
<text x="0" y="0" font-size="11.6" font-weight="bold" text-anchor="middle" fill="#000" transform="translate(319.20,253.5) scale(0.9,1)" stroke="#000" stroke-width="0.3">0.0</text>
<text x="0" y="0" font-size="11.6" font-weight="bold" text-anchor="middle" fill="#000" transform="translate(363.40,253.5) scale(0.9,1)" stroke="#000" stroke-width="0.3">0.2</text>
<text x="0" y="0" font-size="11.6" font-weight="bold" text-anchor="middle" fill="#000" transform="translate(407.60,253.5) scale(0.9,1)" stroke="#000" stroke-width="0.3">0.4</text>
<text x="0" y="0" font-size="11.6" font-weight="bold" text-anchor="middle" fill="#000" transform="translate(451.80,253.5) scale(0.9,1)" stroke="#000" stroke-width="0.3">0.6</text>
<text x="0" y="0" font-size="11.6" font-weight="bold" text-anchor="middle" fill="#000" transform="translate(496.00,253.5) scale(0.9,1)" stroke="#000" stroke-width="0.3">0.8</text>
<text x="0" y="0" font-size="11.6" font-weight="bold" text-anchor="middle" fill="#000" transform="translate(540.20,253.5) scale(0.9,1)" stroke="#000" stroke-width="0.3">1.0</text>
<text x="0" y="0" font-size="13.8" font-weight="bold" text-anchor="middle" fill="#000" transform="translate(428.6,267.9) scale(0.892,1)" stroke="#000" stroke-width="0.3">Relative pressure (P/P<tspan font-size="9.3" dy="3.3">o</tspan><tspan font-size="13.8" dy="-3.3">)</tspan></text>
<text x="0" y="0" font-size="13.6" font-weight="bold" text-anchor="middle" fill="#000" transform="translate(286.9,125.6) rotate(-90) scale(1.075,1)" stroke="#000" stroke-width="0.3">Volume adsorbed (cm<tspan font-size="9" dy="-5.2">3</tspan><tspan font-size="13.6" dy="5.2">/g)</tspan></text>
<text x="0" y="0" font-size="26.8" font-weight="bold" text-anchor="start" fill="#000" transform="translate(274.6,21.9) scale(0.745,1)" stroke="#000" stroke-width="0.3">b</text>
<rect x="334.8" y="22.4" width="116.80000000000001" height="111.9" fill="#fff" stroke="#222" stroke-width="1.2"/>
<line x1="332.8" y1="128.90" x2="334.8" y2="128.90" stroke="#222" stroke-width="0.7"/>
<line x1="333.6" y1="118.30" x2="334.8" y2="118.30" stroke="#222" stroke-width="0.7"/>
<line x1="332.8" y1="107.70" x2="334.8" y2="107.70" stroke="#222" stroke-width="0.7"/>
<line x1="333.6" y1="97.10" x2="334.8" y2="97.10" stroke="#222" stroke-width="0.7"/>
<line x1="332.8" y1="86.50" x2="334.8" y2="86.50" stroke="#222" stroke-width="0.7"/>
<line x1="333.6" y1="75.90" x2="334.8" y2="75.90" stroke="#222" stroke-width="0.7"/>
<line x1="332.8" y1="65.30" x2="334.8" y2="65.30" stroke="#222" stroke-width="0.7"/>
<line x1="333.6" y1="54.70" x2="334.8" y2="54.70" stroke="#222" stroke-width="0.7"/>
<line x1="332.8" y1="44.10" x2="334.8" y2="44.10" stroke="#222" stroke-width="0.7"/>
<line x1="333.6" y1="33.50" x2="334.8" y2="33.50" stroke="#222" stroke-width="0.7"/>
<line x1="332.8" y1="22.90" x2="334.8" y2="22.90" stroke="#222" stroke-width="0.7"/>
<text x="0" y="0" font-size="5.2" font-weight="bold" text-anchor="end" fill="#000" transform="translate(331.6,130.60) scale(1.04,1)" stroke="#222" stroke-width="0.15">0.00</text>
<text x="0" y="0" font-size="5.2" font-weight="bold" text-anchor="end" fill="#000" transform="translate(331.6,109.40) scale(1.04,1)" stroke="#222" stroke-width="0.15">0.02</text>
<text x="0" y="0" font-size="5.2" font-weight="bold" text-anchor="end" fill="#000" transform="translate(331.6,88.20) scale(1.04,1)" stroke="#222" stroke-width="0.15">0.04</text>
<text x="0" y="0" font-size="5.2" font-weight="bold" text-anchor="end" fill="#000" transform="translate(331.6,67.00) scale(1.04,1)" stroke="#222" stroke-width="0.15">0.06</text>
<text x="0" y="0" font-size="5.2" font-weight="bold" text-anchor="end" fill="#000" transform="translate(331.6,45.80) scale(1.04,1)" stroke="#222" stroke-width="0.15">0.08</text>
<text x="0" y="0" font-size="5.2" font-weight="bold" text-anchor="end" fill="#000" transform="translate(331.6,24.60) scale(1.04,1)" stroke="#222" stroke-width="0.15">0.10</text>
<line x1="335.00" y1="134.3" x2="335.00" y2="136.3" stroke="#222" stroke-width="0.7"/>
<line x1="344.74" y1="134.3" x2="344.74" y2="135.5" stroke="#222" stroke-width="0.7"/>
<line x1="354.47" y1="134.3" x2="354.47" y2="136.3" stroke="#222" stroke-width="0.7"/>
<line x1="364.20" y1="134.3" x2="364.20" y2="135.5" stroke="#222" stroke-width="0.7"/>
<line x1="373.94" y1="134.3" x2="373.94" y2="136.3" stroke="#222" stroke-width="0.7"/>
<line x1="383.68" y1="134.3" x2="383.68" y2="135.5" stroke="#222" stroke-width="0.7"/>
<line x1="393.41" y1="134.3" x2="393.41" y2="136.3" stroke="#222" stroke-width="0.7"/>
<line x1="403.14" y1="134.3" x2="403.14" y2="135.5" stroke="#222" stroke-width="0.7"/>
<line x1="412.88" y1="134.3" x2="412.88" y2="136.3" stroke="#222" stroke-width="0.7"/>
<line x1="422.62" y1="134.3" x2="422.62" y2="135.5" stroke="#222" stroke-width="0.7"/>
<line x1="432.35" y1="134.3" x2="432.35" y2="136.3" stroke="#222" stroke-width="0.7"/>
<line x1="442.09" y1="134.3" x2="442.09" y2="135.5" stroke="#222" stroke-width="0.7"/>
<line x1="451.82" y1="134.3" x2="451.82" y2="136.3" stroke="#222" stroke-width="0.7"/>
<text x="0" y="0" font-size="5.8" font-weight="bold" text-anchor="middle" fill="#000" transform="translate(335.00,142.6) scale(0.95,1)" fill="#222" stroke="#222" stroke-width="0.2">0</text>
<text x="0" y="0" font-size="5.8" font-weight="bold" text-anchor="middle" fill="#000" transform="translate(354.47,142.6) scale(0.95,1)" fill="#222" stroke="#222" stroke-width="0.2">10</text>
<text x="0" y="0" font-size="5.8" font-weight="bold" text-anchor="middle" fill="#000" transform="translate(373.94,142.6) scale(0.95,1)" fill="#222" stroke="#222" stroke-width="0.2">20</text>
<text x="0" y="0" font-size="5.8" font-weight="bold" text-anchor="middle" fill="#000" transform="translate(393.41,142.6) scale(0.95,1)" fill="#222" stroke="#222" stroke-width="0.2">30</text>
<text x="0" y="0" font-size="5.8" font-weight="bold" text-anchor="middle" fill="#000" transform="translate(412.88,142.6) scale(0.95,1)" fill="#222" stroke="#222" stroke-width="0.2">40</text>
<text x="0" y="0" font-size="5.8" font-weight="bold" text-anchor="middle" fill="#000" transform="translate(432.35,142.6) scale(0.95,1)" fill="#222" stroke="#222" stroke-width="0.2">50</text>
<text x="0" y="0" font-size="5.8" font-weight="bold" text-anchor="middle" fill="#000" transform="translate(451.82,142.6) scale(0.95,1)" fill="#222" stroke="#222" stroke-width="0.2">60</text>
<text x="0" y="0" font-size="8.4" font-weight="bold" text-anchor="middle" fill="#000" transform="translate(393.8,149.8) scale(0.75,1)" stroke="#000" stroke-width="0.1">Pore diameter (nm)</text>
<text x="0" y="0" font-size="7.0" font-weight="bold" text-anchor="middle" fill="#000" transform="translate(321.2,77.6) rotate(-90) scale(1.0,1)" stroke="#000" stroke-width="0.4">dV/d(logD)</text>
<path d="M336.50,127.50 L343.00,127.80 L350.00,127.50 L356.00,123.10 L360.30,118.10 L364.30,113.80 L370.40,114.90 L380.00,119.60 L396.00,123.70 L430.20,126.60 L451.00,127.30" fill="none" stroke="#333" stroke-width="1.0" stroke-linejoin="round" />
<circle cx="343.00" cy="127.80" r="1.2" fill="#505050"/>
<circle cx="350.00" cy="127.50" r="1.2" fill="#505050"/>
<circle cx="356.00" cy="123.10" r="1.2" fill="#505050"/>
<circle cx="360.30" cy="118.10" r="1.2" fill="#505050"/>
<circle cx="364.30" cy="113.80" r="1.2" fill="#505050"/>
<circle cx="370.40" cy="114.90" r="1.2" fill="#505050"/>
<circle cx="380.00" cy="119.60" r="1.2" fill="#505050"/>
<circle cx="396.00" cy="123.70" r="1.2" fill="#505050"/>
<circle cx="430.20" cy="126.60" r="1.2" fill="#505050"/>
<path d="M336.50,126.00 L338.70,123.10 L340.10,125.30 L341.50,128.20 L344.40,127.00 L348.00,126.00 L351.00,124.60 L353.80,121.00 L357.40,114.50 L360.30,111.60 L364.60,110.20 L371.80,115.20 L381.00,121.50 L396.00,124.70 L451.00,127.50" fill="none" stroke="#e8403c" stroke-width="1.5" stroke-linejoin="round" />
<circle cx="336.50" cy="126.00" r="1.6" fill="#e8403c"/>
<circle cx="338.70" cy="123.10" r="1.6" fill="#e8403c"/>
<circle cx="340.10" cy="125.30" r="1.6" fill="#e8403c"/>
<circle cx="341.50" cy="128.20" r="1.6" fill="#e8403c"/>
<circle cx="344.40" cy="127.00" r="1.6" fill="#e8403c"/>
<circle cx="348.00" cy="126.00" r="1.6" fill="#e8403c"/>
<circle cx="351.00" cy="124.60" r="1.6" fill="#e8403c"/>
<circle cx="353.80" cy="121.00" r="1.6" fill="#e8403c"/>
<circle cx="357.40" cy="114.50" r="1.6" fill="#e8403c"/>
<circle cx="360.30" cy="111.60" r="1.6" fill="#e8403c"/>
<circle cx="364.60" cy="110.20" r="1.6" fill="#e8403c"/>
<circle cx="371.80" cy="115.20" r="1.6" fill="#e8403c"/>
<circle cx="381.00" cy="121.50" r="1.6" fill="#e8403c"/>
<circle cx="396.00" cy="124.70" r="1.6" fill="#e8403c"/>
<path d="M341.30,112.00 L342.20,46.50 L343.60,36.00 L345.40,66.00 L346.60,100.80 L348.80,115.90 L353.10,122.40 L359.60,125.30 L362.50,125.60 L366.00,126.50 L373.30,127.50 L387.70,127.90 L413.60,128.00 L451.00,128.00" fill="none" stroke="#1a5fd0" stroke-width="1.0" stroke-linejoin="round" />
<path d="M341.30,110.08 L342.90,113.28 L339.70,113.28 Z" fill="#1a5fd0"/>
<path d="M342.20,44.58 L343.80,47.78 L340.60,47.78 Z" fill="#1a5fd0"/>
<path d="M343.60,34.08 L345.20,37.28 L342.00,37.28 Z" fill="#1a5fd0"/>
<path d="M345.40,64.08 L347.00,67.28 L343.80,67.28 Z" fill="#1a5fd0"/>
<path d="M346.60,98.88 L348.20,102.08 L345.00,102.08 Z" fill="#1a5fd0"/>
<path d="M348.80,113.98 L350.40,117.18 L347.20,117.18 Z" fill="#1a5fd0"/>
<path d="M353.10,120.48 L354.70,123.68 L351.50,123.68 Z" fill="#1a5fd0"/>
<path d="M359.60,123.38 L361.20,126.58 L358.00,126.58 Z" fill="#1a5fd0"/>
<path d="M362.50,123.68 L364.10,126.88 L360.90,126.88 Z" fill="#1a5fd0"/>
<path d="M366.00,124.58 L367.60,127.78 L364.40,127.78 Z" fill="#1a5fd0"/>
<path d="M373.30,125.58 L374.90,128.78 L371.70,128.78 Z" fill="#1a5fd0"/>
<path d="M387.70,125.98 L389.30,129.18 L386.10,129.18 Z" fill="#1a5fd0"/>
<path d="M413.60,126.08 L415.20,129.28 L412.00,129.28 Z" fill="#1a5fd0"/>
<path d="M451.00,126.08 L452.60,129.28 L449.40,129.28 Z" fill="#1a5fd0"/>
<line x1="372.2" y1="33.7" x2="396.0" y2="33.7" stroke="#505050" stroke-width="1.45"/>
<line x1="372.2" y1="51.9" x2="396.0" y2="51.9" stroke="#e8403c" stroke-width="1.45"/>
<line x1="372.2" y1="70.0" x2="396.0" y2="70.0" stroke="#1a5fd0" stroke-width="1.45"/>
<circle cx="384.10" cy="33.70" r="1.6" fill="#505050"/>
<circle cx="384.10" cy="51.90" r="1.6" fill="#e8403c"/>
<path d="M384.10,68.08 L385.70,71.28 L382.50,71.28 Z" fill="#1a5fd0"/>
<text x="0" y="0" font-size="13.2" font-weight="bold" text-anchor="start" fill="#000" transform="translate(398.4,38.3) scale(0.8,1)" stroke="#000" stroke-width="0.15">Co<tspan font-size="8.8" dy="3.4">3</tspan><tspan font-size="13.2" dy="-3.4">O</tspan><tspan font-size="8.8" dy="3.4">4</tspan></text>
<text x="0" y="0" font-size="13.2" font-weight="bold" text-anchor="start" fill="#000" transform="translate(398.3,56.4) scale(0.8,1)" stroke="#000" stroke-width="0.15">Zn<tspan font-size="8.8" dy="3.4">0.05</tspan><tspan font-size="13.2" dy="-3.4">CoO</tspan><tspan font-size="8.8" dy="3.0">x</tspan></text>
<text x="0" y="0" font-size="13.2" font-weight="bold" text-anchor="start" fill="#000" transform="translate(398.3,74.2) scale(0.8,1)" stroke="#000" stroke-width="0.15">Zn<tspan font-size="8.8" dy="3.4">0.4</tspan><tspan font-size="13.2" dy="-3.4">CoO</tspan><tspan font-size="8.8" dy="3.0">x</tspan></text>
</svg></body></html>
